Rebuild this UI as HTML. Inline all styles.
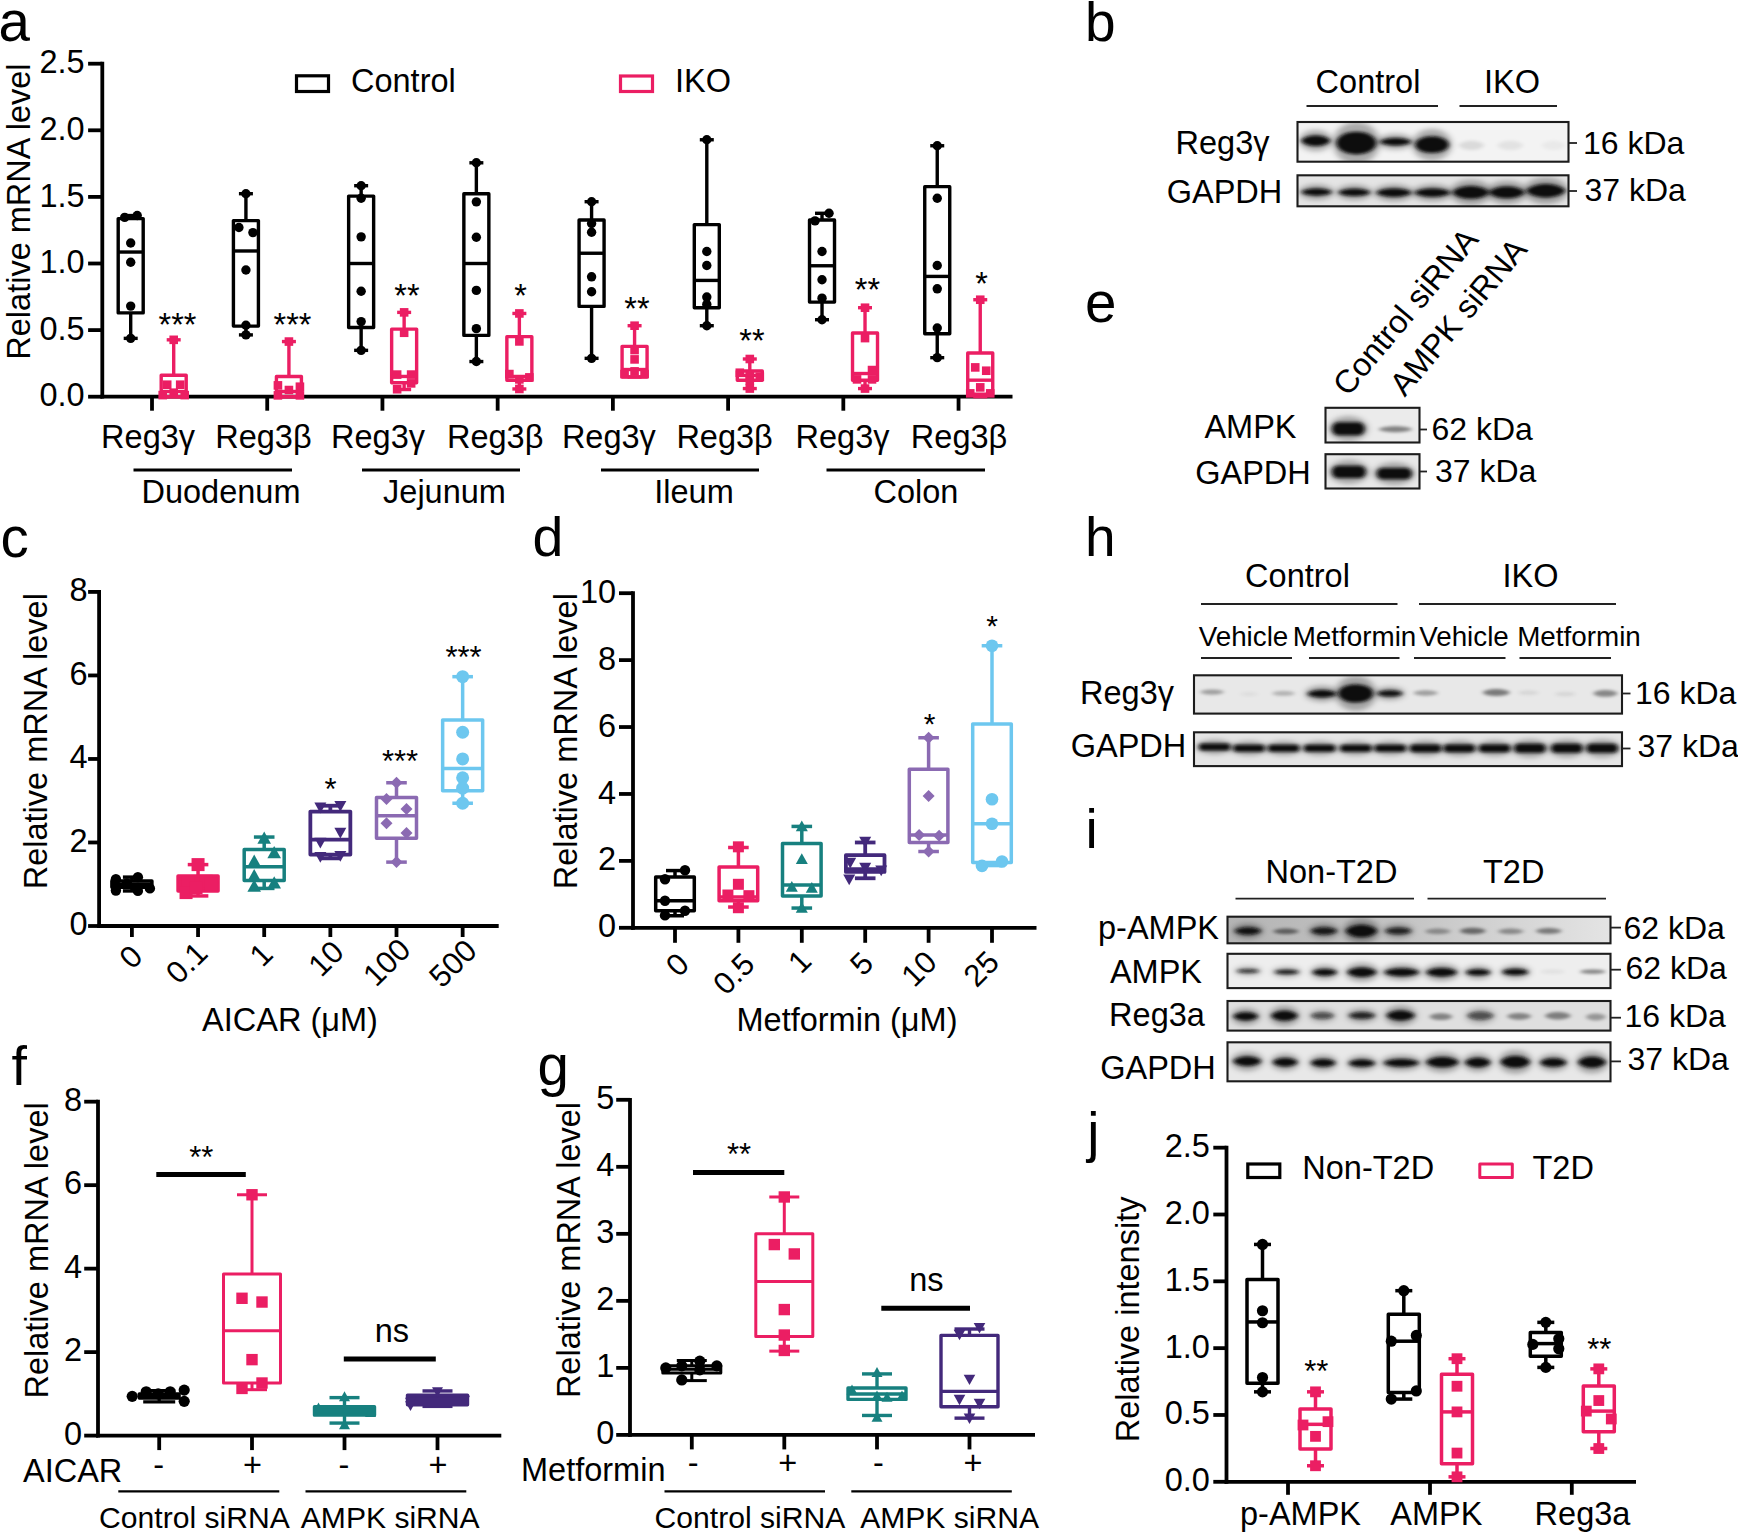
<!DOCTYPE html>
<html lang="en"><head><meta charset="utf-8"><title>Figure</title>
<style>
html,body{margin:0;padding:0;background:#fff;}
svg{display:block;font-family:"Liberation Sans", sans-serif;}
</style></head><body>
<svg width="1738" height="1533" viewBox="0 0 1738 1533">
<defs>
<filter id="b4" x="-30%" y="-200%" width="160%" height="500%"><feGaussianBlur stdDeviation="2.0 1.5"/></filter>
<filter id="b6" x="-30%" y="-200%" width="160%" height="500%"><feGaussianBlur stdDeviation="2.2 1.6"/></filter>
<filter id="b8" x="-40%" y="-300%" width="180%" height="700%"><feGaussianBlur stdDeviation="3.2 2.6"/></filter>
<linearGradient id="gi1" x1="0" x2="1" y1="0" y2="0"><stop offset="0" stop-color="#b4b4b4"/><stop offset="0.5" stop-color="#c6c6c6"/><stop offset="1" stop-color="#e4e4e4"/></linearGradient>
</defs>
<rect width="1738" height="1533" fill="#fff"/>

<text x="-1.5" y="41" font-size="56.5" text-anchor="start" fill="#000">a</text>
<line x1="102.3" y1="61.8" x2="102.3" y2="398.6" stroke="#000" stroke-width="3.8" stroke-linecap="butt"/>
<line x1="100.4" y1="396.7" x2="1012.5" y2="396.7" stroke="#000" stroke-width="3.8" stroke-linecap="butt"/>
<line x1="88.1" y1="396.7" x2="102.3" y2="396.7" stroke="#000" stroke-width="3.8" stroke-linecap="butt"/>
<text x="84.7" y="406.3" font-size="32.5" text-anchor="end" fill="#000">0.0</text>
<line x1="88.1" y1="330.1" x2="102.3" y2="330.1" stroke="#000" stroke-width="3.8" stroke-linecap="butt"/>
<text x="84.7" y="339.7" font-size="32.5" text-anchor="end" fill="#000">0.5</text>
<line x1="88.1" y1="263.5" x2="102.3" y2="263.5" stroke="#000" stroke-width="3.8" stroke-linecap="butt"/>
<text x="84.7" y="273.1" font-size="32.5" text-anchor="end" fill="#000">1.0</text>
<line x1="88.1" y1="196.9" x2="102.3" y2="196.9" stroke="#000" stroke-width="3.8" stroke-linecap="butt"/>
<text x="84.7" y="206.5" font-size="32.5" text-anchor="end" fill="#000">1.5</text>
<line x1="88.1" y1="130.3" x2="102.3" y2="130.3" stroke="#000" stroke-width="3.8" stroke-linecap="butt"/>
<text x="84.7" y="139.9" font-size="32.5" text-anchor="end" fill="#000">2.0</text>
<line x1="88.1" y1="63.7" x2="102.3" y2="63.7" stroke="#000" stroke-width="3.8" stroke-linecap="butt"/>
<text x="84.7" y="73.3" font-size="32.5" text-anchor="end" fill="#000">2.5</text>
<line x1="152" y1="396.7" x2="152" y2="410.7" stroke="#000" stroke-width="3.8" stroke-linecap="butt"/>
<line x1="267.22" y1="396.7" x2="267.22" y2="410.7" stroke="#000" stroke-width="3.8" stroke-linecap="butt"/>
<line x1="382.44" y1="396.7" x2="382.44" y2="410.7" stroke="#000" stroke-width="3.8" stroke-linecap="butt"/>
<line x1="497.66" y1="396.7" x2="497.66" y2="410.7" stroke="#000" stroke-width="3.8" stroke-linecap="butt"/>
<line x1="612.88" y1="396.7" x2="612.88" y2="410.7" stroke="#000" stroke-width="3.8" stroke-linecap="butt"/>
<line x1="728.1" y1="396.7" x2="728.1" y2="410.7" stroke="#000" stroke-width="3.8" stroke-linecap="butt"/>
<line x1="843.32" y1="396.7" x2="843.32" y2="410.7" stroke="#000" stroke-width="3.8" stroke-linecap="butt"/>
<line x1="958.54" y1="396.7" x2="958.54" y2="410.7" stroke="#000" stroke-width="3.8" stroke-linecap="butt"/>
<text x="29.7" y="211.6" font-size="32.5" text-anchor="middle" fill="#000" transform="rotate(-90 29.7 211.6)">Relative mRNA level</text>
<rect x="296.5" y="75.8" width="32" height="15.7" fill="none" stroke="#000" stroke-width="3.2" stroke-linejoin="miter"/>
<text x="351" y="92" font-size="32.5" text-anchor="start" fill="#000">Control</text>
<rect x="620.5" y="76" width="32" height="15.5" fill="none" stroke="#EB1E63" stroke-width="3.2" stroke-linejoin="miter"/>
<text x="675" y="92" font-size="32.5" text-anchor="start" fill="#000">IKO</text>
<line x1="130.7" y1="215.55" x2="130.7" y2="218.61" stroke="#000" stroke-width="3.4" stroke-linecap="butt"/>
<line x1="130.7" y1="312.92" x2="130.7" y2="338.36" stroke="#000" stroke-width="3.4" stroke-linecap="butt"/>
<line x1="123.7" y1="215.55" x2="137.7" y2="215.55" stroke="#000" stroke-width="3.4" stroke-linecap="butt"/>
<line x1="123.7" y1="338.36" x2="137.7" y2="338.36" stroke="#000" stroke-width="3.4" stroke-linecap="butt"/>
<rect x="118.2" y="218.61" width="25" height="94.31" fill="none" stroke="#000" stroke-width="3.4" stroke-linejoin="round"/>
<line x1="118.2" y1="252.04" x2="143.2" y2="252.04" stroke="#000" stroke-width="3.4" stroke-linecap="butt"/>
<circle cx="124.7" cy="217.41" r="4.7" fill="#000"/>
<circle cx="137.2" cy="215.55" r="4.7" fill="#000"/>
<circle cx="130.7" cy="242.99" r="4.7" fill="#000"/>
<circle cx="130.7" cy="262.3" r="4.7" fill="#000"/>
<circle cx="130.7" cy="306.12" r="4.7" fill="#000"/>
<circle cx="130.7" cy="338.36" r="4.7" fill="#000"/>
<line x1="173.7" y1="339.82" x2="173.7" y2="375.25" stroke="#EB1E63" stroke-width="3.4" stroke-linecap="butt"/>
<line x1="173.7" y1="396.7" x2="173.7" y2="396.7" stroke="#EB1E63" stroke-width="3.4" stroke-linecap="butt"/>
<line x1="166.7" y1="339.82" x2="180.7" y2="339.82" stroke="#EB1E63" stroke-width="3.4" stroke-linecap="butt"/>
<line x1="166.7" y1="396.7" x2="180.7" y2="396.7" stroke="#EB1E63" stroke-width="3.4" stroke-linecap="butt"/>
<rect x="161.2" y="375.25" width="25" height="21.45" fill="none" stroke="#EB1E63" stroke-width="3.4" stroke-linejoin="round"/>
<line x1="161.2" y1="391.51" x2="186.2" y2="391.51" stroke="#EB1E63" stroke-width="3.4" stroke-linecap="butt"/>
<rect x="169.4" y="335.52" width="8.6" height="8.6" fill="#EB1E63"/>
<rect x="162.9" y="380.41" width="8.6" height="8.6" fill="#EB1E63"/>
<rect x="175.9" y="380.41" width="8.6" height="8.6" fill="#EB1E63"/>
<rect x="158.4" y="390.8" width="8.6" height="8.6" fill="#EB1E63"/>
<rect x="169.4" y="388.4" width="8.6" height="8.6" fill="#EB1E63"/>
<rect x="180.4" y="390.8" width="8.6" height="8.6" fill="#EB1E63"/>
<line x1="245.92" y1="193.7" x2="245.92" y2="220.61" stroke="#000" stroke-width="3.4" stroke-linecap="butt"/>
<line x1="245.92" y1="326.1" x2="245.92" y2="334.9" stroke="#000" stroke-width="3.4" stroke-linecap="butt"/>
<line x1="238.92" y1="193.7" x2="252.92" y2="193.7" stroke="#000" stroke-width="3.4" stroke-linecap="butt"/>
<line x1="238.92" y1="334.9" x2="252.92" y2="334.9" stroke="#000" stroke-width="3.4" stroke-linecap="butt"/>
<rect x="233.42" y="220.61" width="25" height="105.49" fill="none" stroke="#000" stroke-width="3.4" stroke-linejoin="round"/>
<line x1="233.42" y1="250.98" x2="258.42" y2="250.98" stroke="#000" stroke-width="3.4" stroke-linecap="butt"/>
<circle cx="245.92" cy="193.7" r="4.7" fill="#000"/>
<circle cx="238.92" cy="227.54" r="4.7" fill="#000"/>
<circle cx="252.92" cy="232.6" r="4.7" fill="#000"/>
<circle cx="245.92" cy="270.03" r="4.7" fill="#000"/>
<circle cx="245.92" cy="325.3" r="4.7" fill="#000"/>
<circle cx="245.92" cy="334.9" r="4.7" fill="#000"/>
<line x1="288.92" y1="341.56" x2="288.92" y2="376.45" stroke="#EB1E63" stroke-width="3.4" stroke-linecap="butt"/>
<line x1="288.92" y1="396.7" x2="288.92" y2="396.7" stroke="#EB1E63" stroke-width="3.4" stroke-linecap="butt"/>
<line x1="281.92" y1="341.56" x2="295.92" y2="341.56" stroke="#EB1E63" stroke-width="3.4" stroke-linecap="butt"/>
<line x1="281.92" y1="396.7" x2="295.92" y2="396.7" stroke="#EB1E63" stroke-width="3.4" stroke-linecap="butt"/>
<rect x="276.42" y="376.45" width="25" height="20.25" fill="none" stroke="#EB1E63" stroke-width="3.4" stroke-linejoin="round"/>
<line x1="276.42" y1="391.51" x2="301.42" y2="391.51" stroke="#EB1E63" stroke-width="3.4" stroke-linecap="butt"/>
<rect x="284.62" y="337.26" width="8.6" height="8.6" fill="#EB1E63"/>
<rect x="273.62" y="381.08" width="8.6" height="8.6" fill="#EB1E63"/>
<rect x="295.62" y="382.41" width="8.6" height="8.6" fill="#EB1E63"/>
<rect x="284.62" y="385.74" width="8.6" height="8.6" fill="#EB1E63"/>
<rect x="273.62" y="391.07" width="8.6" height="8.6" fill="#EB1E63"/>
<rect x="295.62" y="391.07" width="8.6" height="8.6" fill="#EB1E63"/>
<line x1="361.14" y1="185.71" x2="361.14" y2="196.1" stroke="#000" stroke-width="3.4" stroke-linecap="butt"/>
<line x1="361.14" y1="327.44" x2="361.14" y2="350.35" stroke="#000" stroke-width="3.4" stroke-linecap="butt"/>
<line x1="354.14" y1="185.71" x2="368.14" y2="185.71" stroke="#000" stroke-width="3.4" stroke-linecap="butt"/>
<line x1="354.14" y1="350.35" x2="368.14" y2="350.35" stroke="#000" stroke-width="3.4" stroke-linecap="butt"/>
<rect x="348.64" y="196.1" width="25" height="131.34" fill="none" stroke="#000" stroke-width="3.4" stroke-linejoin="round"/>
<line x1="348.64" y1="263.5" x2="373.64" y2="263.5" stroke="#000" stroke-width="3.4" stroke-linecap="butt"/>
<circle cx="361.14" cy="185.71" r="4.7" fill="#000"/>
<circle cx="361.14" cy="198.23" r="4.7" fill="#000"/>
<circle cx="361.14" cy="236.86" r="4.7" fill="#000"/>
<circle cx="361.14" cy="291.21" r="4.7" fill="#000"/>
<circle cx="361.14" cy="321.58" r="4.7" fill="#000"/>
<circle cx="361.14" cy="350.35" r="4.7" fill="#000"/>
<line x1="404.14" y1="312.38" x2="404.14" y2="329.17" stroke="#EB1E63" stroke-width="3.4" stroke-linecap="butt"/>
<line x1="404.14" y1="382.71" x2="404.14" y2="389.51" stroke="#EB1E63" stroke-width="3.4" stroke-linecap="butt"/>
<line x1="397.14" y1="312.38" x2="411.14" y2="312.38" stroke="#EB1E63" stroke-width="3.4" stroke-linecap="butt"/>
<line x1="397.14" y1="389.51" x2="411.14" y2="389.51" stroke="#EB1E63" stroke-width="3.4" stroke-linecap="butt"/>
<rect x="391.64" y="329.17" width="25" height="53.55" fill="none" stroke="#EB1E63" stroke-width="3.4" stroke-linejoin="round"/>
<line x1="391.64" y1="376.45" x2="416.64" y2="376.45" stroke="#EB1E63" stroke-width="3.4" stroke-linecap="butt"/>
<rect x="399.84" y="308.08" width="8.6" height="8.6" fill="#EB1E63"/>
<rect x="399.84" y="328.46" width="8.6" height="8.6" fill="#EB1E63"/>
<rect x="392.84" y="370.29" width="8.6" height="8.6" fill="#EB1E63"/>
<rect x="406.84" y="370.29" width="8.6" height="8.6" fill="#EB1E63"/>
<rect x="406.84" y="379.08" width="8.6" height="8.6" fill="#EB1E63"/>
<rect x="392.84" y="384.94" width="8.6" height="8.6" fill="#EB1E63"/>
<line x1="476.36" y1="162.8" x2="476.36" y2="193.7" stroke="#000" stroke-width="3.4" stroke-linecap="butt"/>
<line x1="476.36" y1="335.43" x2="476.36" y2="361.54" stroke="#000" stroke-width="3.4" stroke-linecap="butt"/>
<line x1="469.36" y1="162.8" x2="483.36" y2="162.8" stroke="#000" stroke-width="3.4" stroke-linecap="butt"/>
<line x1="469.36" y1="361.54" x2="483.36" y2="361.54" stroke="#000" stroke-width="3.4" stroke-linecap="butt"/>
<rect x="463.86" y="193.7" width="25" height="141.72" fill="none" stroke="#000" stroke-width="3.4" stroke-linejoin="round"/>
<line x1="463.86" y1="263.5" x2="488.86" y2="263.5" stroke="#000" stroke-width="3.4" stroke-linecap="butt"/>
<circle cx="476.36" cy="162.8" r="4.7" fill="#000"/>
<circle cx="476.36" cy="201.83" r="4.7" fill="#000"/>
<circle cx="476.36" cy="237.26" r="4.7" fill="#000"/>
<circle cx="476.36" cy="290.41" r="4.7" fill="#000"/>
<circle cx="476.36" cy="328.63" r="4.7" fill="#000"/>
<circle cx="476.36" cy="361.54" r="4.7" fill="#000"/>
<line x1="519.36" y1="313.45" x2="519.36" y2="336.63" stroke="#EB1E63" stroke-width="3.4" stroke-linecap="butt"/>
<line x1="519.36" y1="380.18" x2="519.36" y2="388.97" stroke="#EB1E63" stroke-width="3.4" stroke-linecap="butt"/>
<line x1="512.36" y1="313.45" x2="526.36" y2="313.45" stroke="#EB1E63" stroke-width="3.4" stroke-linecap="butt"/>
<line x1="512.36" y1="388.97" x2="526.36" y2="388.97" stroke="#EB1E63" stroke-width="3.4" stroke-linecap="butt"/>
<rect x="506.86" y="336.63" width="25" height="43.56" fill="none" stroke="#EB1E63" stroke-width="3.4" stroke-linejoin="round"/>
<line x1="506.86" y1="376.45" x2="531.86" y2="376.45" stroke="#EB1E63" stroke-width="3.4" stroke-linecap="butt"/>
<rect x="515.06" y="309.15" width="8.6" height="8.6" fill="#EB1E63"/>
<rect x="515.06" y="337.12" width="8.6" height="8.6" fill="#EB1E63"/>
<rect x="505.06" y="369.76" width="8.6" height="8.6" fill="#EB1E63"/>
<rect x="525.06" y="373.09" width="8.6" height="8.6" fill="#EB1E63"/>
<rect x="515.06" y="375.08" width="8.6" height="8.6" fill="#EB1E63"/>
<rect x="515.06" y="384.67" width="8.6" height="8.6" fill="#EB1E63"/>
<line x1="591.58" y1="201.7" x2="591.58" y2="219.94" stroke="#000" stroke-width="3.4" stroke-linecap="butt"/>
<line x1="591.58" y1="306.39" x2="591.58" y2="358.34" stroke="#000" stroke-width="3.4" stroke-linecap="butt"/>
<line x1="584.58" y1="201.7" x2="598.58" y2="201.7" stroke="#000" stroke-width="3.4" stroke-linecap="butt"/>
<line x1="584.58" y1="358.34" x2="598.58" y2="358.34" stroke="#000" stroke-width="3.4" stroke-linecap="butt"/>
<rect x="579.08" y="219.94" width="25" height="86.45" fill="none" stroke="#000" stroke-width="3.4" stroke-linejoin="round"/>
<line x1="579.08" y1="253.24" x2="604.08" y2="253.24" stroke="#000" stroke-width="3.4" stroke-linecap="butt"/>
<circle cx="591.58" cy="201.7" r="4.7" fill="#000"/>
<circle cx="591.58" cy="223.54" r="4.7" fill="#000"/>
<circle cx="591.58" cy="232.2" r="4.7" fill="#000"/>
<circle cx="591.58" cy="276.82" r="4.7" fill="#000"/>
<circle cx="591.58" cy="291.74" r="4.7" fill="#000"/>
<circle cx="591.58" cy="358.34" r="4.7" fill="#000"/>
<line x1="634.58" y1="325.7" x2="634.58" y2="346.35" stroke="#EB1E63" stroke-width="3.4" stroke-linecap="butt"/>
<line x1="634.58" y1="376.99" x2="634.58" y2="376.99" stroke="#EB1E63" stroke-width="3.4" stroke-linecap="butt"/>
<line x1="627.58" y1="325.7" x2="641.58" y2="325.7" stroke="#EB1E63" stroke-width="3.4" stroke-linecap="butt"/>
<line x1="627.58" y1="376.99" x2="641.58" y2="376.99" stroke="#EB1E63" stroke-width="3.4" stroke-linecap="butt"/>
<rect x="622.08" y="346.35" width="25" height="30.64" fill="none" stroke="#EB1E63" stroke-width="3.4" stroke-linejoin="round"/>
<line x1="622.08" y1="369.53" x2="647.08" y2="369.53" stroke="#EB1E63" stroke-width="3.4" stroke-linecap="butt"/>
<rect x="630.28" y="321.4" width="8.6" height="8.6" fill="#EB1E63"/>
<rect x="630.28" y="345.78" width="8.6" height="8.6" fill="#EB1E63"/>
<rect x="630.28" y="355.1" width="8.6" height="8.6" fill="#EB1E63"/>
<rect x="620.28" y="369.76" width="8.6" height="8.6" fill="#EB1E63"/>
<rect x="640.28" y="369.76" width="8.6" height="8.6" fill="#EB1E63"/>
<rect x="630.28" y="367.09" width="8.6" height="8.6" fill="#EB1E63"/>
<line x1="706.8" y1="139.76" x2="706.8" y2="224.61" stroke="#000" stroke-width="3.4" stroke-linecap="butt"/>
<line x1="706.8" y1="307.72" x2="706.8" y2="325.7" stroke="#000" stroke-width="3.4" stroke-linecap="butt"/>
<line x1="699.8" y1="139.76" x2="713.8" y2="139.76" stroke="#000" stroke-width="3.4" stroke-linecap="butt"/>
<line x1="699.8" y1="325.7" x2="713.8" y2="325.7" stroke="#000" stroke-width="3.4" stroke-linecap="butt"/>
<rect x="694.3" y="224.61" width="25" height="83.12" fill="none" stroke="#000" stroke-width="3.4" stroke-linejoin="round"/>
<line x1="694.3" y1="280.42" x2="719.3" y2="280.42" stroke="#000" stroke-width="3.4" stroke-linecap="butt"/>
<circle cx="706.8" cy="139.76" r="4.7" fill="#000"/>
<circle cx="706.8" cy="251.51" r="4.7" fill="#000"/>
<circle cx="706.8" cy="265.5" r="4.7" fill="#000"/>
<circle cx="706.8" cy="297.07" r="4.7" fill="#000"/>
<circle cx="706.8" cy="304.39" r="4.7" fill="#000"/>
<circle cx="706.8" cy="325.7" r="4.7" fill="#000"/>
<line x1="749.8" y1="359" x2="749.8" y2="370.99" stroke="#EB1E63" stroke-width="3.4" stroke-linecap="butt"/>
<line x1="749.8" y1="380.18" x2="749.8" y2="388.57" stroke="#EB1E63" stroke-width="3.4" stroke-linecap="butt"/>
<line x1="742.8" y1="359" x2="756.8" y2="359" stroke="#EB1E63" stroke-width="3.4" stroke-linecap="butt"/>
<line x1="742.8" y1="388.57" x2="756.8" y2="388.57" stroke="#EB1E63" stroke-width="3.4" stroke-linecap="butt"/>
<rect x="737.3" y="370.99" width="25" height="9.19" fill="none" stroke="#EB1E63" stroke-width="3.4" stroke-linejoin="round"/>
<line x1="737.3" y1="375.39" x2="762.3" y2="375.39" stroke="#EB1E63" stroke-width="3.4" stroke-linecap="butt"/>
<rect x="745.5" y="354.7" width="8.6" height="8.6" fill="#EB1E63"/>
<rect x="735.5" y="368.42" width="8.6" height="8.6" fill="#EB1E63"/>
<rect x="755.5" y="372.42" width="8.6" height="8.6" fill="#EB1E63"/>
<rect x="745.5" y="370.42" width="8.6" height="8.6" fill="#EB1E63"/>
<rect x="745.5" y="376.42" width="8.6" height="8.6" fill="#EB1E63"/>
<rect x="745.5" y="384.27" width="8.6" height="8.6" fill="#EB1E63"/>
<line x1="822.02" y1="213.28" x2="822.02" y2="219.94" stroke="#000" stroke-width="3.4" stroke-linecap="butt"/>
<line x1="822.02" y1="302.13" x2="822.02" y2="319.71" stroke="#000" stroke-width="3.4" stroke-linecap="butt"/>
<line x1="815.02" y1="213.28" x2="829.02" y2="213.28" stroke="#000" stroke-width="3.4" stroke-linecap="butt"/>
<line x1="815.02" y1="319.71" x2="829.02" y2="319.71" stroke="#000" stroke-width="3.4" stroke-linecap="butt"/>
<rect x="809.52" y="219.94" width="25" height="82.18" fill="none" stroke="#000" stroke-width="3.4" stroke-linejoin="round"/>
<line x1="809.52" y1="265.76" x2="834.52" y2="265.76" stroke="#000" stroke-width="3.4" stroke-linecap="butt"/>
<circle cx="829.02" cy="213.28" r="4.7" fill="#000"/>
<circle cx="815.02" cy="220.88" r="4.7" fill="#000"/>
<circle cx="822.02" cy="251.51" r="4.7" fill="#000"/>
<circle cx="822.02" cy="279.75" r="4.7" fill="#000"/>
<circle cx="822.02" cy="298.13" r="4.7" fill="#000"/>
<circle cx="822.02" cy="319.71" r="4.7" fill="#000"/>
<line x1="865.02" y1="307.72" x2="865.02" y2="333.03" stroke="#EB1E63" stroke-width="3.4" stroke-linecap="butt"/>
<line x1="865.02" y1="380.18" x2="865.02" y2="388.57" stroke="#EB1E63" stroke-width="3.4" stroke-linecap="butt"/>
<line x1="858.02" y1="307.72" x2="872.02" y2="307.72" stroke="#EB1E63" stroke-width="3.4" stroke-linecap="butt"/>
<line x1="858.02" y1="388.57" x2="872.02" y2="388.57" stroke="#EB1E63" stroke-width="3.4" stroke-linecap="butt"/>
<rect x="852.52" y="333.03" width="25" height="47.15" fill="none" stroke="#EB1E63" stroke-width="3.4" stroke-linejoin="round"/>
<line x1="852.52" y1="373.52" x2="877.52" y2="373.52" stroke="#EB1E63" stroke-width="3.4" stroke-linecap="butt"/>
<rect x="860.72" y="303.42" width="8.6" height="8.6" fill="#EB1E63"/>
<rect x="860.72" y="333.79" width="8.6" height="8.6" fill="#EB1E63"/>
<rect x="867.72" y="365.76" width="8.6" height="8.6" fill="#EB1E63"/>
<rect x="852.72" y="375.08" width="8.6" height="8.6" fill="#EB1E63"/>
<rect x="867.72" y="375.08" width="8.6" height="8.6" fill="#EB1E63"/>
<rect x="860.72" y="384.27" width="8.6" height="8.6" fill="#EB1E63"/>
<line x1="937.24" y1="145.75" x2="937.24" y2="186.64" stroke="#000" stroke-width="3.4" stroke-linecap="butt"/>
<line x1="937.24" y1="333.7" x2="937.24" y2="357.67" stroke="#000" stroke-width="3.4" stroke-linecap="butt"/>
<line x1="930.24" y1="145.75" x2="944.24" y2="145.75" stroke="#000" stroke-width="3.4" stroke-linecap="butt"/>
<line x1="930.24" y1="357.67" x2="944.24" y2="357.67" stroke="#000" stroke-width="3.4" stroke-linecap="butt"/>
<rect x="924.74" y="186.64" width="25" height="147.05" fill="none" stroke="#000" stroke-width="3.4" stroke-linejoin="round"/>
<line x1="924.74" y1="276.42" x2="949.74" y2="276.42" stroke="#000" stroke-width="3.4" stroke-linecap="butt"/>
<circle cx="937.24" cy="145.75" r="4.7" fill="#000"/>
<circle cx="937.24" cy="198.23" r="4.7" fill="#000"/>
<circle cx="937.24" cy="265.5" r="4.7" fill="#000"/>
<circle cx="937.24" cy="288.81" r="4.7" fill="#000"/>
<circle cx="937.24" cy="327.97" r="4.7" fill="#000"/>
<circle cx="937.24" cy="357.67" r="4.7" fill="#000"/>
<line x1="980.24" y1="299.73" x2="980.24" y2="353.01" stroke="#EB1E63" stroke-width="3.4" stroke-linecap="butt"/>
<line x1="980.24" y1="394.17" x2="980.24" y2="396.7" stroke="#EB1E63" stroke-width="3.4" stroke-linecap="butt"/>
<line x1="973.24" y1="299.73" x2="987.24" y2="299.73" stroke="#EB1E63" stroke-width="3.4" stroke-linecap="butt"/>
<line x1="973.24" y1="396.7" x2="987.24" y2="396.7" stroke="#EB1E63" stroke-width="3.4" stroke-linecap="butt"/>
<rect x="967.74" y="353.01" width="25" height="41.16" fill="none" stroke="#EB1E63" stroke-width="3.4" stroke-linejoin="round"/>
<line x1="967.74" y1="380.18" x2="992.74" y2="380.18" stroke="#EB1E63" stroke-width="3.4" stroke-linecap="butt"/>
<rect x="975.94" y="295.43" width="8.6" height="8.6" fill="#EB1E63"/>
<rect x="970.94" y="363.1" width="8.6" height="8.6" fill="#EB1E63"/>
<rect x="981.94" y="366.43" width="8.6" height="8.6" fill="#EB1E63"/>
<rect x="975.94" y="383.08" width="8.6" height="8.6" fill="#EB1E63"/>
<rect x="965.94" y="389.07" width="8.6" height="8.6" fill="#EB1E63"/>
<rect x="985.94" y="389.07" width="8.6" height="8.6" fill="#EB1E63"/>
<text x="177.5" y="335.5" font-size="32.5" text-anchor="middle" fill="#000">***</text>
<text x="292.5" y="335.5" font-size="32.5" text-anchor="middle" fill="#000">***</text>
<text x="407" y="307" font-size="32.5" text-anchor="middle" fill="#000">**</text>
<text x="520.5" y="307" font-size="32.5" text-anchor="middle" fill="#000">*</text>
<text x="637" y="319.5" font-size="32.5" text-anchor="middle" fill="#000">**</text>
<text x="752" y="352" font-size="32.5" text-anchor="middle" fill="#000">**</text>
<text x="867.5" y="300.5" font-size="32.5" text-anchor="middle" fill="#000">**</text>
<text x="981.5" y="294.5" font-size="32.5" text-anchor="middle" fill="#000">*</text>
<text x="148.1" y="447.5" font-size="32.5" text-anchor="middle" fill="#000">Reg3γ</text>
<text x="263.42" y="447.5" font-size="32.5" text-anchor="middle" fill="#000">Reg3β</text>
<text x="378.04" y="447.5" font-size="32.5" text-anchor="middle" fill="#000">Reg3γ</text>
<text x="495.16" y="447.5" font-size="32.5" text-anchor="middle" fill="#000">Reg3β</text>
<text x="608.88" y="447.5" font-size="32.5" text-anchor="middle" fill="#000">Reg3γ</text>
<text x="724.6" y="447.5" font-size="32.5" text-anchor="middle" fill="#000">Reg3β</text>
<text x="842.52" y="447.5" font-size="32.5" text-anchor="middle" fill="#000">Reg3γ</text>
<text x="959.04" y="447.5" font-size="32.5" text-anchor="middle" fill="#000">Reg3β</text>
<line x1="133.5" y1="470" x2="292" y2="470" stroke="#000" stroke-width="3" stroke-linecap="butt"/>
<text x="221" y="502.5" font-size="32.5" text-anchor="middle" fill="#000">Duodenum</text>
<line x1="362" y1="470" x2="520" y2="470" stroke="#000" stroke-width="3" stroke-linecap="butt"/>
<text x="444.5" y="502.5" font-size="32.5" text-anchor="middle" fill="#000">Jejunum</text>
<line x1="601" y1="470" x2="759" y2="470" stroke="#000" stroke-width="3" stroke-linecap="butt"/>
<text x="694" y="502.5" font-size="32.5" text-anchor="middle" fill="#000">Ileum</text>
<line x1="826.5" y1="470" x2="985" y2="470" stroke="#000" stroke-width="3" stroke-linecap="butt"/>
<text x="916" y="502.5" font-size="32.5" text-anchor="middle" fill="#000">Colon</text>
<text x="1085" y="40.8" font-size="55" text-anchor="start" fill="#000">b</text>
<text x="1368" y="92.5" font-size="32.5" text-anchor="middle" fill="#000">Control</text>
<text x="1512" y="92.5" font-size="32.5" text-anchor="middle" fill="#000">IKO</text>
<line x1="1306.5" y1="106" x2="1438" y2="106" stroke="#222" stroke-width="1.8" stroke-linecap="butt"/>
<line x1="1459.5" y1="106" x2="1557" y2="106" stroke="#222" stroke-width="1.8" stroke-linecap="butt"/>
<text x="1222.5" y="153.5" font-size="32.5" text-anchor="middle" fill="#000">Reg3γ</text>
<text x="1224.5" y="202.5" font-size="32.5" text-anchor="middle" fill="#000">GAPDH</text>
<clipPath id="c252"><rect x="1297.5" y="122" width="271" height="39.7"/></clipPath>
<rect x="1297.5" y="122" width="271" height="39.7" fill="#f3f3f3"/>
<g clip-path="url(#c252)"><g filter="url(#b8)">
<ellipse cx="1315.76" cy="140.66" rx="16.66" ry="10.55" fill="#0c0c0c" fill-opacity="0.3"/>
<ellipse cx="1356.36" cy="143.03" rx="23.48" ry="21.11" fill="#0c0c0c" fill-opacity="0.3"/>
<ellipse cx="1395.6" cy="141.68" rx="18.17" ry="7.92" fill="#0c0c0c" fill-opacity="0.3"/>
<ellipse cx="1431.97" cy="144.72" rx="19.88" ry="15.83" fill="#0c0c0c" fill-opacity="0.3"/>
</g><g filter="url(#b4)">
<path d="M1301.13 140.66 C1305.97 133.63 1325.56 133.63 1330.4 140.66 C1325.56 147.7 1305.97 147.7 1301.13 140.66Z" fill="#0c0c0c" fill-opacity="1"/>
<ellipse cx="1356.36" cy="143.03" rx="19.92" ry="11.38" fill="#0c0c0c" fill-opacity="1"/>
<path d="M1379.62 141.68 C1384.93 136.64 1406.27 136.64 1411.59 141.68 C1406.27 146.72 1384.93 146.72 1379.62 141.68Z" fill="#0c0c0c" fill-opacity="1"/>
<ellipse cx="1431.97" cy="144.72" rx="16.71" ry="8.36" fill="#0c0c0c" fill-opacity="1"/>
<path d="M1458.44 145.4 C1462.69 139.36 1480.07 139.36 1484.32 145.4 C1480.07 151.44 1462.69 151.44 1458.44 145.4Z" fill="#0c0c0c" fill-opacity="0.1"/>
<path d="M1497.34 145.4 C1501.59 139.36 1518.98 139.36 1523.22 145.4 C1518.98 151.44 1501.59 151.44 1497.34 145.4Z" fill="#0c0c0c" fill-opacity="0.07"/>
<path d="M1541.32 145.4 C1545.28 139.36 1561.56 139.36 1565.51 145.4 C1561.56 151.44 1545.28 151.44 1541.32 145.4Z" fill="#0c0c0c" fill-opacity="0.04"/>
</g></g>
<rect x="1297.5" y="122" width="271" height="39.7" fill="none" stroke="#1c1c1c" stroke-width="2.1"/>
<clipPath id="c269"><rect x="1297.5" y="175.3" width="271" height="31"/></clipPath>
<rect x="1297.5" y="175.3" width="271" height="31" fill="#e4e4e4"/>
<g clip-path="url(#c269)"><g filter="url(#b8)">
<ellipse cx="1316.61" cy="192.08" rx="17.6" ry="7.59" fill="#0c0c0c" fill-opacity="0.3"/>
<ellipse cx="1354.33" cy="192.42" rx="18.17" ry="7.59" fill="#0c0c0c" fill-opacity="0.3"/>
<ellipse cx="1393.91" cy="192.76" rx="20.07" ry="8.58" fill="#0c0c0c" fill-opacity="0.3"/>
<ellipse cx="1432.48" cy="192.76" rx="20.44" ry="8.58" fill="#0c0c0c" fill-opacity="0.3"/>
<ellipse cx="1470.87" cy="192.42" rx="21.01" ry="12.53" fill="#0c0c0c" fill-opacity="0.3"/>
<ellipse cx="1506.9" cy="192.42" rx="20.44" ry="11.54" fill="#0c0c0c" fill-opacity="0.3"/>
<ellipse cx="1545.81" cy="190.73" rx="22.34" ry="13.19" fill="#0c0c0c" fill-opacity="0.3"/>
</g><g filter="url(#b4)">
<path d="M1301.13 192.08 C1306.27 187.29 1326.95 187.29 1332.09 192.08 C1326.95 196.87 1306.27 196.87 1301.13 192.08Z" fill="#0c0c0c" fill-opacity="1"/>
<path d="M1338.35 192.42 C1343.66 187.63 1365 187.63 1370.32 192.42 C1365 197.21 1343.66 197.21 1338.35 192.42Z" fill="#0c0c0c" fill-opacity="1"/>
<path d="M1376.23 192.76 C1382.14 187.22 1405.68 187.22 1411.59 192.76 C1405.68 198.3 1382.14 198.3 1376.23 192.76Z" fill="#0c0c0c" fill-opacity="1"/>
<path d="M1414.46 192.76 C1420.49 187.22 1444.47 187.22 1450.49 192.76 C1444.47 198.3 1420.49 198.3 1414.46 192.76Z" fill="#0c0c0c" fill-opacity="1"/>
<path d="M1452.35 192.42 C1458.55 183.89 1483.19 183.89 1489.39 192.42 C1483.19 200.96 1458.55 200.96 1452.35 192.42Z" fill="#0c0c0c" fill-opacity="1"/>
<path d="M1488.89 192.42 C1494.91 184.64 1518.89 184.64 1524.92 192.42 C1518.89 200.21 1494.91 200.21 1488.89 192.42Z" fill="#0c0c0c" fill-opacity="1"/>
<path d="M1526.1 190.73 C1532.72 181.7 1558.89 181.7 1565.51 190.73 C1558.89 199.77 1532.72 199.77 1526.1 190.73Z" fill="#0c0c0c" fill-opacity="1"/>
</g></g>
<rect x="1297.5" y="175.3" width="271" height="31" fill="none" stroke="#1c1c1c" stroke-width="2.1"/>
<line x1="1569" y1="143" x2="1577" y2="143" stroke="#222" stroke-width="1.8" stroke-linecap="butt"/>
<line x1="1569" y1="191" x2="1577" y2="191" stroke="#222" stroke-width="1.8" stroke-linecap="butt"/>
<text x="1583" y="153.5" font-size="32" text-anchor="start" fill="#000">16 kDa</text>
<text x="1584.5" y="200.5" font-size="32" text-anchor="start" fill="#000">37 kDa</text>
<text x="1085" y="321.5" font-size="56.5" text-anchor="start" fill="#000">e</text>
<text x="1348" y="397.5" font-size="32.4" text-anchor="start" fill="#000" transform="rotate(-50 1348 397.5)">Control siRNA</text>
<text x="1404.8" y="397.7" font-size="32.4" text-anchor="start" fill="#000" transform="rotate(-50 1404.8 397.7)">AMPK siRNA</text>
<text x="1250.5" y="437.5" font-size="32.5" text-anchor="middle" fill="#000">AMPK</text>
<text x="1253" y="484" font-size="32.5" text-anchor="middle" fill="#000">GAPDH</text>
<clipPath id="c298"><rect x="1325.5" y="407.8" width="94" height="34.7"/></clipPath>
<rect x="1325.5" y="407.8" width="94" height="34.7" fill="#ebebeb"/>
<g clip-path="url(#c298)"><g filter="url(#b8)">
<ellipse cx="1348.34" cy="428.79" rx="19.59" ry="12.46" fill="#0c0c0c" fill-opacity="0.3"/>
</g><g filter="url(#b6)">
<rect x="1332.05" y="422.36" width="32.58" height="12.85" rx="6.42" ry="6.42" fill="#0c0c0c" fill-opacity="1"/>
<path d="M1378.26 429.23 C1383.96 425.21 1406.74 425.21 1412.44 429.23 C1406.74 433.24 1383.96 433.24 1378.26 429.23Z" fill="#0c0c0c" fill-opacity="0.45"/>
</g></g>
<rect x="1325.5" y="407.8" width="94" height="34.7" fill="none" stroke="#1c1c1c" stroke-width="2.1"/>
<clipPath id="c307"><rect x="1325.5" y="454.2" width="94" height="34.3"/></clipPath>
<rect x="1325.5" y="454.2" width="94" height="34.3" fill="#e8e8e8"/>
<g clip-path="url(#c307)"><g filter="url(#b8)">
<ellipse cx="1348.89" cy="471.86" rx="20.2" ry="11.81" fill="#0c0c0c" fill-opacity="0.3"/>
<ellipse cx="1394.25" cy="473.61" rx="20.81" ry="11.15" fill="#0c0c0c" fill-opacity="0.3"/>
</g><g filter="url(#b6)">
<rect x="1332.05" y="465.81" width="33.67" height="12.1" rx="6.05" ry="6.05" fill="#0c0c0c" fill-opacity="1"/>
<rect x="1376.87" y="467.93" width="34.77" height="11.35" rx="5.67" ry="5.67" fill="#0c0c0c" fill-opacity="1"/>
</g></g>
<rect x="1325.5" y="454.2" width="94" height="34.3" fill="none" stroke="#1c1c1c" stroke-width="2.1"/>
<line x1="1420" y1="429.5" x2="1427" y2="429.5" stroke="#222" stroke-width="1.8" stroke-linecap="butt"/>
<line x1="1420" y1="471.5" x2="1427" y2="471.5" stroke="#222" stroke-width="1.8" stroke-linecap="butt"/>
<text x="1431.5" y="439.5" font-size="32" text-anchor="start" fill="#000">62 kDa</text>
<text x="1435" y="482" font-size="32" text-anchor="start" fill="#000">37 kDa</text>
<text x="0.5" y="557" font-size="56.5" text-anchor="start" fill="#000">c</text>
<line x1="99.1" y1="590.02" x2="99.1" y2="927.9" stroke="#000" stroke-width="3.8" stroke-linecap="butt"/>
<line x1="97.2" y1="926" x2="498.7" y2="926" stroke="#000" stroke-width="3.8" stroke-linecap="butt"/>
<line x1="88.1" y1="926" x2="99.1" y2="926" stroke="#000" stroke-width="3.8" stroke-linecap="butt"/>
<text x="87.5" y="935.2" font-size="32.5" text-anchor="end" fill="#000">0</text>
<line x1="88.1" y1="842.48" x2="99.1" y2="842.48" stroke="#000" stroke-width="3.8" stroke-linecap="butt"/>
<text x="87.5" y="851.68" font-size="32.5" text-anchor="end" fill="#000">2</text>
<line x1="88.1" y1="758.96" x2="99.1" y2="758.96" stroke="#000" stroke-width="3.8" stroke-linecap="butt"/>
<text x="87.5" y="768.16" font-size="32.5" text-anchor="end" fill="#000">4</text>
<line x1="88.1" y1="675.44" x2="99.1" y2="675.44" stroke="#000" stroke-width="3.8" stroke-linecap="butt"/>
<text x="87.5" y="684.64" font-size="32.5" text-anchor="end" fill="#000">6</text>
<line x1="88.1" y1="591.92" x2="99.1" y2="591.92" stroke="#000" stroke-width="3.8" stroke-linecap="butt"/>
<text x="87.5" y="601.12" font-size="32.5" text-anchor="end" fill="#000">8</text>
<line x1="131.9" y1="926" x2="131.9" y2="937" stroke="#000" stroke-width="3.8" stroke-linecap="butt"/>
<line x1="198.05" y1="926" x2="198.05" y2="937" stroke="#000" stroke-width="3.8" stroke-linecap="butt"/>
<line x1="264.2" y1="926" x2="264.2" y2="937" stroke="#000" stroke-width="3.8" stroke-linecap="butt"/>
<line x1="330.35" y1="926" x2="330.35" y2="937" stroke="#000" stroke-width="3.8" stroke-linecap="butt"/>
<line x1="396.5" y1="926" x2="396.5" y2="937" stroke="#000" stroke-width="3.8" stroke-linecap="butt"/>
<line x1="462.65" y1="926" x2="462.65" y2="937" stroke="#000" stroke-width="3.8" stroke-linecap="butt"/>
<text x="47.5" y="741.2" font-size="32.5" text-anchor="middle" fill="#000" transform="rotate(-90 47.5 741.2)">Relative mRNA level</text>
<text x="144.4" y="958.4" font-size="31" text-anchor="end" fill="#000" transform="rotate(-45 144.4 958.4)">0</text>
<text x="209.35" y="955" font-size="31" text-anchor="end" fill="#000" transform="rotate(-45 209.35 955)">0.1</text>
<text x="274.6" y="956" font-size="31" text-anchor="end" fill="#000" transform="rotate(-45 274.6 956)">1</text>
<text x="345.75" y="953.8" font-size="31" text-anchor="end" fill="#000" transform="rotate(-45 345.75 953.8)">10</text>
<text x="412.5" y="951.5" font-size="31" text-anchor="end" fill="#000" transform="rotate(-45 412.5 951.5)">100</text>
<text x="478.65" y="952.6" font-size="31" text-anchor="end" fill="#000" transform="rotate(-45 478.65 952.6)">500</text>
<text x="290" y="1031" font-size="32.5" text-anchor="middle" fill="#000">AICAR (μM)</text>
<line x1="131.9" y1="877.14" x2="131.9" y2="880.9" stroke="#000" stroke-width="3.5" stroke-linecap="butt"/>
<line x1="131.9" y1="887.16" x2="131.9" y2="890.92" stroke="#000" stroke-width="3.5" stroke-linecap="butt"/>
<line x1="122.9" y1="877.14" x2="140.9" y2="877.14" stroke="#000" stroke-width="3.5" stroke-linecap="butt"/>
<line x1="122.9" y1="890.92" x2="140.9" y2="890.92" stroke="#000" stroke-width="3.5" stroke-linecap="butt"/>
<rect x="111.9" y="880.9" width="40" height="6.26" fill="none" stroke="#000" stroke-width="3.5" stroke-linejoin="round"/>
<line x1="111.9" y1="884.24" x2="151.9" y2="884.24" stroke="#000" stroke-width="3.5" stroke-linecap="butt"/>
<circle cx="115.9" cy="879.23" r="5.2" fill="#000"/>
<circle cx="137.9" cy="877.14" r="5.2" fill="#000"/>
<circle cx="115.9" cy="890.5" r="5.2" fill="#000"/>
<circle cx="137.9" cy="890.92" r="5.2" fill="#000"/>
<circle cx="149.9" cy="888.42" r="5.2" fill="#000"/>
<circle cx="126.9" cy="883.4" r="5.2" fill="#000"/>
<line x1="198.05" y1="864.61" x2="198.05" y2="875.89" stroke="#EB1E63" stroke-width="3.5" stroke-linecap="butt"/>
<line x1="198.05" y1="890.92" x2="198.05" y2="895.93" stroke="#EB1E63" stroke-width="3.5" stroke-linecap="butt"/>
<line x1="187.75" y1="864.61" x2="208.35" y2="864.61" stroke="#EB1E63" stroke-width="3.5" stroke-linecap="butt"/>
<line x1="187.75" y1="895.93" x2="208.35" y2="895.93" stroke="#EB1E63" stroke-width="3.5" stroke-linecap="butt"/>
<rect x="178.05" y="875.89" width="40" height="15.03" fill="#EB1E63" stroke="#EB1E63" stroke-width="3.5" stroke-linejoin="round"/>
<line x1="178.05" y1="882.15" x2="218.05" y2="882.15" stroke="#EB1E63" stroke-width="3.5" stroke-linecap="butt"/>
<rect x="191.55" y="858.11" width="13" height="13" fill="#EB1E63"/>
<rect x="181.55" y="876.9" width="13" height="13" fill="#EB1E63"/>
<rect x="199.55" y="874.82" width="13" height="13" fill="#EB1E63"/>
<rect x="179.55" y="886.09" width="13" height="13" fill="#EB1E63"/>
<rect x="204.55" y="877.74" width="13" height="13" fill="#EB1E63"/>
<rect x="189.55" y="881.08" width="13" height="13" fill="#EB1E63"/>
<line x1="264.2" y1="837.05" x2="264.2" y2="849.58" stroke="#17807F" stroke-width="3.5" stroke-linecap="butt"/>
<line x1="264.2" y1="880.48" x2="264.2" y2="888.42" stroke="#17807F" stroke-width="3.5" stroke-linecap="butt"/>
<line x1="253.9" y1="837.05" x2="274.5" y2="837.05" stroke="#17807F" stroke-width="3.5" stroke-linecap="butt"/>
<line x1="253.9" y1="888.42" x2="274.5" y2="888.42" stroke="#17807F" stroke-width="3.5" stroke-linecap="butt"/>
<rect x="244.2" y="849.58" width="40" height="30.9" fill="none" stroke="#17807F" stroke-width="3.5" stroke-linejoin="round"/>
<line x1="244.2" y1="866.7" x2="284.2" y2="866.7" stroke="#17807F" stroke-width="3.5" stroke-linecap="butt"/>
<polygon points="264.2,831.5 271,843.74 257.4,843.74" fill="#17807F"/>
<polygon points="274.2,846.12 281,858.36 267.4,858.36" fill="#17807F"/>
<polygon points="254.2,854.47 261,866.71 247.4,866.71" fill="#17807F"/>
<polygon points="254.2,869.09 261,881.33 247.4,881.33" fill="#17807F"/>
<polygon points="274.2,876.19 281,888.43 267.4,888.43" fill="#17807F"/>
<polygon points="254.2,879.53 261,891.77 247.4,891.77" fill="#17807F"/>
<line x1="330.35" y1="805.73" x2="330.35" y2="811.58" stroke="#43297B" stroke-width="3.8" stroke-linecap="butt"/>
<line x1="330.35" y1="854.59" x2="330.35" y2="858.35" stroke="#43297B" stroke-width="3.8" stroke-linecap="butt"/>
<line x1="320.05" y1="805.73" x2="340.65" y2="805.73" stroke="#43297B" stroke-width="3.8" stroke-linecap="butt"/>
<line x1="320.05" y1="858.35" x2="340.65" y2="858.35" stroke="#43297B" stroke-width="3.8" stroke-linecap="butt"/>
<rect x="310.35" y="811.58" width="40" height="43.01" fill="none" stroke="#43297B" stroke-width="3.8" stroke-linejoin="round"/>
<line x1="310.35" y1="839.56" x2="350.35" y2="839.56" stroke="#43297B" stroke-width="3.8" stroke-linecap="butt"/>
<polygon points="320.35,813.4 326.35,802.6 314.35,802.6" fill="#43297B"/>
<polygon points="340.35,811.73 346.35,800.93 334.35,800.93" fill="#43297B"/>
<polygon points="340.35,838.46 346.35,827.66 334.35,827.66" fill="#43297B"/>
<polygon points="320.35,848.48 326.35,837.68 314.35,837.68" fill="#43297B"/>
<polygon points="320.35,862.68 326.35,851.88 314.35,851.88" fill="#43297B"/>
<polygon points="340.35,861.84 346.35,851.04 334.35,851.04" fill="#43297B"/>
<line x1="396.5" y1="782.76" x2="396.5" y2="797.38" stroke="#8B6AB2" stroke-width="3.5" stroke-linecap="butt"/>
<line x1="396.5" y1="838.3" x2="396.5" y2="862.11" stroke="#8B6AB2" stroke-width="3.5" stroke-linecap="butt"/>
<line x1="386.2" y1="782.76" x2="406.8" y2="782.76" stroke="#8B6AB2" stroke-width="3.5" stroke-linecap="butt"/>
<line x1="386.2" y1="862.11" x2="406.8" y2="862.11" stroke="#8B6AB2" stroke-width="3.5" stroke-linecap="butt"/>
<rect x="376.5" y="797.38" width="40" height="40.92" fill="none" stroke="#8B6AB2" stroke-width="3.5" stroke-linejoin="round"/>
<line x1="376.5" y1="815.75" x2="416.5" y2="815.75" stroke="#8B6AB2" stroke-width="3.5" stroke-linecap="butt"/>
<polygon points="396.5,776.76 402.5,782.76 396.5,788.76 390.5,782.76" fill="#8B6AB2"/>
<polygon points="386.5,793.05 392.5,799.05 386.5,805.05 380.5,799.05" fill="#8B6AB2"/>
<polygon points="406.5,803.07 412.5,809.07 406.5,815.07 400.5,809.07" fill="#8B6AB2"/>
<polygon points="386.5,817.27 392.5,823.27 386.5,829.27 380.5,823.27" fill="#8B6AB2"/>
<polygon points="406.5,826.88 412.5,832.88 406.5,838.88 400.5,832.88" fill="#8B6AB2"/>
<polygon points="396.5,856.11 402.5,862.11 396.5,868.11 390.5,862.11" fill="#8B6AB2"/>
<line x1="462.65" y1="676.69" x2="462.65" y2="720.12" stroke="#6DC7EF" stroke-width="3.5" stroke-linecap="butt"/>
<line x1="462.65" y1="790.7" x2="462.65" y2="803.23" stroke="#6DC7EF" stroke-width="3.5" stroke-linecap="butt"/>
<line x1="452.35" y1="676.69" x2="472.95" y2="676.69" stroke="#6DC7EF" stroke-width="3.5" stroke-linecap="butt"/>
<line x1="452.35" y1="803.23" x2="472.95" y2="803.23" stroke="#6DC7EF" stroke-width="3.5" stroke-linecap="butt"/>
<rect x="442.65" y="720.12" width="40" height="70.57" fill="none" stroke="#6DC7EF" stroke-width="3.5" stroke-linejoin="round"/>
<line x1="442.65" y1="768.56" x2="482.65" y2="768.56" stroke="#6DC7EF" stroke-width="3.5" stroke-linecap="butt"/>
<circle cx="462.65" cy="676.69" r="6.5" fill="#6DC7EF"/>
<circle cx="462.65" cy="732.23" r="6.5" fill="#6DC7EF"/>
<circle cx="462.65" cy="758.96" r="6.5" fill="#6DC7EF"/>
<circle cx="462.65" cy="777.75" r="6.5" fill="#6DC7EF"/>
<circle cx="462.65" cy="788.19" r="6.5" fill="#6DC7EF"/>
<circle cx="462.65" cy="803.23" r="6.5" fill="#6DC7EF"/>
<text x="463.5" y="668.3" font-size="31" text-anchor="middle" fill="#000">***</text>
<text x="400" y="772.3" font-size="31" text-anchor="middle" fill="#000">***</text>
<text x="330.5" y="799.8" font-size="31" text-anchor="middle" fill="#000">*</text>
<text x="532.4" y="556.2" font-size="55.5" text-anchor="start" fill="#000">d</text>
<line x1="633" y1="591.3" x2="633" y2="929.7" stroke="#000" stroke-width="3.8" stroke-linecap="butt"/>
<line x1="631.1" y1="927.8" x2="1036.5" y2="927.8" stroke="#000" stroke-width="3.8" stroke-linecap="butt"/>
<line x1="619" y1="927.8" x2="633" y2="927.8" stroke="#000" stroke-width="3.8" stroke-linecap="butt"/>
<text x="616.1" y="937.4" font-size="32.5" text-anchor="end" fill="#000">0</text>
<line x1="619" y1="860.88" x2="633" y2="860.88" stroke="#000" stroke-width="3.8" stroke-linecap="butt"/>
<text x="616.1" y="870.48" font-size="32.5" text-anchor="end" fill="#000">2</text>
<line x1="619" y1="793.96" x2="633" y2="793.96" stroke="#000" stroke-width="3.8" stroke-linecap="butt"/>
<text x="616.1" y="803.56" font-size="32.5" text-anchor="end" fill="#000">4</text>
<line x1="619" y1="727.04" x2="633" y2="727.04" stroke="#000" stroke-width="3.8" stroke-linecap="butt"/>
<text x="616.1" y="736.64" font-size="32.5" text-anchor="end" fill="#000">6</text>
<line x1="619" y1="660.12" x2="633" y2="660.12" stroke="#000" stroke-width="3.8" stroke-linecap="butt"/>
<text x="616.1" y="669.72" font-size="32.5" text-anchor="end" fill="#000">8</text>
<line x1="619" y1="593.2" x2="633" y2="593.2" stroke="#000" stroke-width="3.8" stroke-linecap="butt"/>
<text x="616.1" y="602.8" font-size="32.5" text-anchor="end" fill="#000">10</text>
<line x1="675" y1="927.8" x2="675" y2="942.8" stroke="#000" stroke-width="3.8" stroke-linecap="butt"/>
<line x1="738.4" y1="927.8" x2="738.4" y2="942.8" stroke="#000" stroke-width="3.8" stroke-linecap="butt"/>
<line x1="801.8" y1="927.8" x2="801.8" y2="942.8" stroke="#000" stroke-width="3.8" stroke-linecap="butt"/>
<line x1="865.2" y1="927.8" x2="865.2" y2="942.8" stroke="#000" stroke-width="3.8" stroke-linecap="butt"/>
<line x1="928.6" y1="927.8" x2="928.6" y2="942.8" stroke="#000" stroke-width="3.8" stroke-linecap="butt"/>
<line x1="992" y1="927.8" x2="992" y2="942.8" stroke="#000" stroke-width="3.8" stroke-linecap="butt"/>
<text x="577" y="741.2" font-size="32.5" text-anchor="middle" fill="#000" transform="rotate(-90 577 741.2)">Relative mRNA level</text>
<text x="691" y="966" font-size="31" text-anchor="end" fill="#000" transform="rotate(-45 691 966)">0</text>
<text x="756.4" y="966" font-size="31" text-anchor="end" fill="#000" transform="rotate(-45 756.4 966)">0.5</text>
<text x="813.1" y="962.7" font-size="31" text-anchor="end" fill="#000" transform="rotate(-45 813.1 962.7)">1</text>
<text x="875.2" y="965" font-size="31" text-anchor="end" fill="#000" transform="rotate(-45 875.2 965)">5</text>
<text x="938.6" y="964" font-size="31" text-anchor="end" fill="#000" transform="rotate(-45 938.6 964)">10</text>
<text x="1001" y="964" font-size="31" text-anchor="end" fill="#000" transform="rotate(-45 1001 964)">25</text>
<text x="847" y="1031" font-size="32.5" text-anchor="middle" fill="#000">Metformin (μM)</text>
<line x1="675" y1="870.58" x2="675" y2="876.94" stroke="#000" stroke-width="3.5" stroke-linecap="butt"/>
<line x1="675" y1="910.74" x2="675" y2="915.75" stroke="#000" stroke-width="3.5" stroke-linecap="butt"/>
<line x1="666" y1="870.58" x2="684" y2="870.58" stroke="#000" stroke-width="3.5" stroke-linecap="butt"/>
<line x1="666" y1="915.75" x2="684" y2="915.75" stroke="#000" stroke-width="3.5" stroke-linecap="butt"/>
<rect x="655.7" y="876.94" width="38.6" height="33.79" fill="none" stroke="#000" stroke-width="3.5" stroke-linejoin="round"/>
<line x1="655.7" y1="900.7" x2="694.3" y2="900.7" stroke="#000" stroke-width="3.5" stroke-linecap="butt"/>
<circle cx="685" cy="870.25" r="5.2" fill="#000"/>
<circle cx="665" cy="879.28" r="5.2" fill="#000"/>
<circle cx="665" cy="900.7" r="5.2" fill="#000"/>
<circle cx="685" cy="910.74" r="5.2" fill="#000"/>
<circle cx="665" cy="915.42" r="5.2" fill="#000"/>
<line x1="738.4" y1="847.5" x2="738.4" y2="866.9" stroke="#EB1E63" stroke-width="3.5" stroke-linecap="butt"/>
<line x1="738.4" y1="900.7" x2="738.4" y2="907.05" stroke="#EB1E63" stroke-width="3.5" stroke-linecap="butt"/>
<line x1="728.1" y1="847.5" x2="748.7" y2="847.5" stroke="#EB1E63" stroke-width="3.5" stroke-linecap="butt"/>
<line x1="728.1" y1="907.05" x2="748.7" y2="907.05" stroke="#EB1E63" stroke-width="3.5" stroke-linecap="butt"/>
<rect x="719.1" y="866.9" width="38.6" height="33.79" fill="none" stroke="#EB1E63" stroke-width="3.5" stroke-linejoin="round"/>
<line x1="719.1" y1="897.02" x2="757.7" y2="897.02" stroke="#EB1E63" stroke-width="3.5" stroke-linecap="butt"/>
<rect x="732.9" y="841.33" width="11" height="11" fill="#EB1E63"/>
<rect x="732.9" y="878.8" width="11" height="11" fill="#EB1E63"/>
<rect x="722.4" y="889.51" width="11" height="11" fill="#EB1E63"/>
<rect x="743.4" y="890.18" width="11" height="11" fill="#EB1E63"/>
<rect x="732.9" y="902.22" width="11" height="11" fill="#EB1E63"/>
<line x1="801.8" y1="826.42" x2="801.8" y2="843.48" stroke="#17807F" stroke-width="3.5" stroke-linecap="butt"/>
<line x1="801.8" y1="896.01" x2="801.8" y2="908.06" stroke="#17807F" stroke-width="3.5" stroke-linecap="butt"/>
<line x1="791.5" y1="826.42" x2="812.1" y2="826.42" stroke="#17807F" stroke-width="3.5" stroke-linecap="butt"/>
<line x1="791.5" y1="908.06" x2="812.1" y2="908.06" stroke="#17807F" stroke-width="3.5" stroke-linecap="butt"/>
<rect x="782.5" y="843.48" width="38.6" height="52.53" fill="none" stroke="#17807F" stroke-width="3.5" stroke-linejoin="round"/>
<line x1="782.5" y1="884.97" x2="821.1" y2="884.97" stroke="#17807F" stroke-width="3.5" stroke-linecap="butt"/>
<polygon points="801.8,820.42 807.8,831.22 795.8,831.22" fill="#17807F"/>
<polygon points="801.8,853.21 807.8,864.01 795.8,864.01" fill="#17807F"/>
<polygon points="791.8,880.98 797.8,891.78 785.8,891.78" fill="#17807F"/>
<polygon points="811.8,881.98 817.8,892.78 805.8,892.78" fill="#17807F"/>
<polygon points="801.8,902.06 807.8,912.86 795.8,912.86" fill="#17807F"/>
<line x1="865.2" y1="842.48" x2="865.2" y2="855.19" stroke="#43297B" stroke-width="3.8" stroke-linecap="butt"/>
<line x1="865.2" y1="871.92" x2="865.2" y2="878.28" stroke="#43297B" stroke-width="3.8" stroke-linecap="butt"/>
<line x1="854.9" y1="842.48" x2="875.5" y2="842.48" stroke="#43297B" stroke-width="3.8" stroke-linecap="butt"/>
<line x1="854.9" y1="878.28" x2="875.5" y2="878.28" stroke="#43297B" stroke-width="3.8" stroke-linecap="butt"/>
<rect x="845.9" y="855.19" width="38.6" height="16.73" fill="none" stroke="#43297B" stroke-width="3.8" stroke-linejoin="round"/>
<line x1="845.9" y1="869.25" x2="884.5" y2="869.25" stroke="#43297B" stroke-width="3.8" stroke-linecap="butt"/>
<polygon points="865.2,847.47 871.2,836.67 859.2,836.67" fill="#43297B"/>
<polygon points="850.2,868.55 856.2,857.75 844.2,857.75" fill="#43297B"/>
<polygon points="865.2,873.57 871.2,862.77 859.2,862.77" fill="#43297B"/>
<polygon points="881.2,876.25 887.2,865.45 875.2,865.45" fill="#43297B"/>
<polygon points="849.2,885.28 855.2,874.48 843.2,874.48" fill="#43297B"/>
<line x1="928.6" y1="737.75" x2="928.6" y2="769.2" stroke="#8B6AB2" stroke-width="3.5" stroke-linecap="butt"/>
<line x1="928.6" y1="842.48" x2="928.6" y2="851.51" stroke="#8B6AB2" stroke-width="3.5" stroke-linecap="butt"/>
<line x1="918.3" y1="737.75" x2="938.9" y2="737.75" stroke="#8B6AB2" stroke-width="3.5" stroke-linecap="butt"/>
<line x1="918.3" y1="851.51" x2="938.9" y2="851.51" stroke="#8B6AB2" stroke-width="3.5" stroke-linecap="butt"/>
<rect x="909.3" y="769.2" width="38.6" height="73.28" fill="none" stroke="#8B6AB2" stroke-width="3.5" stroke-linejoin="round"/>
<line x1="909.3" y1="835.12" x2="947.9" y2="835.12" stroke="#8B6AB2" stroke-width="3.5" stroke-linecap="butt"/>
<polygon points="928.6,731.75 934.6,737.75 928.6,743.75 922.6,737.75" fill="#8B6AB2"/>
<polygon points="928.6,789.97 934.6,795.97 928.6,801.97 922.6,795.97" fill="#8B6AB2"/>
<polygon points="919.1,829.12 925.1,835.12 919.1,841.12 913.1,835.12" fill="#8B6AB2"/>
<polygon points="939.1,829.78 945.1,835.78 939.1,841.78 933.1,835.78" fill="#8B6AB2"/>
<polygon points="928.6,845.51 934.6,851.51 928.6,857.51 922.6,851.51" fill="#8B6AB2"/>
<line x1="992" y1="645.73" x2="992" y2="724.03" stroke="#6DC7EF" stroke-width="3.5" stroke-linecap="butt"/>
<line x1="992" y1="862.55" x2="992" y2="865.56" stroke="#6DC7EF" stroke-width="3.5" stroke-linecap="butt"/>
<line x1="981.7" y1="645.73" x2="1002.3" y2="645.73" stroke="#6DC7EF" stroke-width="3.5" stroke-linecap="butt"/>
<line x1="981.7" y1="865.56" x2="1002.3" y2="865.56" stroke="#6DC7EF" stroke-width="3.5" stroke-linecap="butt"/>
<rect x="972.7" y="724.03" width="38.6" height="138.52" fill="none" stroke="#6DC7EF" stroke-width="3.5" stroke-linejoin="round"/>
<line x1="972.7" y1="823.74" x2="1011.3" y2="823.74" stroke="#6DC7EF" stroke-width="3.5" stroke-linecap="butt"/>
<circle cx="992" cy="645.73" r="6.3" fill="#6DC7EF"/>
<circle cx="992" cy="799.31" r="6.3" fill="#6DC7EF"/>
<circle cx="992" cy="823.74" r="6.3" fill="#6DC7EF"/>
<circle cx="1002" cy="861.55" r="6.3" fill="#6DC7EF"/>
<circle cx="982" cy="865.9" r="6.3" fill="#6DC7EF"/>
<text x="929.5" y="733.7" font-size="30" text-anchor="middle" fill="#000">*</text>
<text x="992" y="636.2" font-size="30" text-anchor="middle" fill="#000">*</text>
<text x="11.5" y="1084.5" font-size="55.5" text-anchor="start" fill="#000">f</text>
<line x1="98" y1="1099.78" x2="98" y2="1437.5" stroke="#000" stroke-width="3.8" stroke-linecap="butt"/>
<line x1="96.1" y1="1435.6" x2="501.3" y2="1435.6" stroke="#000" stroke-width="3.8" stroke-linecap="butt"/>
<line x1="84.2" y1="1435.6" x2="98" y2="1435.6" stroke="#000" stroke-width="3.8" stroke-linecap="butt"/>
<text x="82" y="1444.8" font-size="32.5" text-anchor="end" fill="#000">0</text>
<line x1="84.2" y1="1352.12" x2="98" y2="1352.12" stroke="#000" stroke-width="3.8" stroke-linecap="butt"/>
<text x="82" y="1361.32" font-size="32.5" text-anchor="end" fill="#000">2</text>
<line x1="84.2" y1="1268.64" x2="98" y2="1268.64" stroke="#000" stroke-width="3.8" stroke-linecap="butt"/>
<text x="82" y="1277.84" font-size="32.5" text-anchor="end" fill="#000">4</text>
<line x1="84.2" y1="1185.16" x2="98" y2="1185.16" stroke="#000" stroke-width="3.8" stroke-linecap="butt"/>
<text x="82" y="1194.36" font-size="32.5" text-anchor="end" fill="#000">6</text>
<line x1="84.2" y1="1101.68" x2="98" y2="1101.68" stroke="#000" stroke-width="3.8" stroke-linecap="butt"/>
<text x="82" y="1110.88" font-size="32.5" text-anchor="end" fill="#000">8</text>
<line x1="159.2" y1="1435.6" x2="159.2" y2="1450.1" stroke="#000" stroke-width="3.8" stroke-linecap="butt"/>
<line x1="252" y1="1435.6" x2="252" y2="1450.1" stroke="#000" stroke-width="3.8" stroke-linecap="butt"/>
<line x1="344.5" y1="1435.6" x2="344.5" y2="1450.1" stroke="#000" stroke-width="3.8" stroke-linecap="butt"/>
<line x1="437.5" y1="1435.6" x2="437.5" y2="1450.1" stroke="#000" stroke-width="3.8" stroke-linecap="butt"/>
<text x="48" y="1250.4" font-size="32.5" text-anchor="middle" fill="#000" transform="rotate(-90 48 1250.4)">Relative mRNA level</text>
<text x="158.7" y="1475.5" font-size="32.5" text-anchor="middle" fill="#000">-</text>
<text x="252.5" y="1475.5" font-size="32.5" text-anchor="middle" fill="#000">+</text>
<text x="344" y="1475.5" font-size="32.5" text-anchor="middle" fill="#000">-</text>
<text x="438" y="1475.5" font-size="32.5" text-anchor="middle" fill="#000">+</text>
<text x="23" y="1481.6" font-size="32.5" text-anchor="start" fill="#000">AICAR</text>
<line x1="118.3" y1="1491.4" x2="279.3" y2="1491.4" stroke="#000" stroke-width="2.4" stroke-linecap="butt"/>
<line x1="305.5" y1="1491.4" x2="466.3" y2="1491.4" stroke="#000" stroke-width="2.4" stroke-linecap="butt"/>
<text x="194.4" y="1527.8" font-size="30.1" text-anchor="middle" fill="#000">Control siRNA</text>
<text x="390.2" y="1527.8" font-size="30.1" text-anchor="middle" fill="#000">AMPK siRNA</text>
<line x1="156.3" y1="1174.5" x2="245.8" y2="1174.5" stroke="#000" stroke-width="5" stroke-linecap="butt"/>
<line x1="343.8" y1="1359" x2="435.8" y2="1359" stroke="#000" stroke-width="5" stroke-linecap="butt"/>
<text x="201.3" y="1168.3" font-size="31" text-anchor="middle" fill="#000">**</text>
<text x="391.8" y="1342.3" font-size="32.5" text-anchor="middle" fill="#000">ns</text>
<line x1="159.2" y1="1390.52" x2="159.2" y2="1393.86" stroke="#000" stroke-width="3.2" stroke-linecap="butt"/>
<line x1="159.2" y1="1398.03" x2="159.2" y2="1401.79" stroke="#000" stroke-width="3.2" stroke-linecap="butt"/>
<line x1="143.2" y1="1390.52" x2="175.2" y2="1390.52" stroke="#000" stroke-width="3.2" stroke-linecap="butt"/>
<line x1="143.2" y1="1401.79" x2="175.2" y2="1401.79" stroke="#000" stroke-width="3.2" stroke-linecap="butt"/>
<rect x="139.2" y="1393.86" width="40" height="4.17" fill="none" stroke="#000" stroke-width="3.2" stroke-linejoin="round"/>
<line x1="139.2" y1="1395.53" x2="179.2" y2="1395.53" stroke="#000" stroke-width="3.2" stroke-linecap="butt"/>
<circle cx="132.2" cy="1396.36" r="5.6" fill="#000"/>
<circle cx="146.2" cy="1391.77" r="5.6" fill="#000"/>
<circle cx="158.2" cy="1393.86" r="5.6" fill="#000"/>
<circle cx="170.2" cy="1391.77" r="5.6" fill="#000"/>
<circle cx="184.2" cy="1390.1" r="5.6" fill="#000"/>
<circle cx="184.2" cy="1401.37" r="5.6" fill="#000"/>
<line x1="252" y1="1194.76" x2="252" y2="1274.07" stroke="#EB1E63" stroke-width="3" stroke-linecap="butt"/>
<line x1="252" y1="1383.01" x2="252" y2="1389.69" stroke="#EB1E63" stroke-width="3" stroke-linecap="butt"/>
<line x1="237" y1="1194.76" x2="267" y2="1194.76" stroke="#EB1E63" stroke-width="3" stroke-linecap="butt"/>
<line x1="237" y1="1389.69" x2="267" y2="1389.69" stroke="#EB1E63" stroke-width="3" stroke-linecap="butt"/>
<rect x="223.5" y="1274.07" width="57" height="108.94" fill="none" stroke="#EB1E63" stroke-width="3" stroke-linejoin="round"/>
<line x1="223.5" y1="1330.83" x2="280.5" y2="1330.83" stroke="#EB1E63" stroke-width="3" stroke-linecap="butt"/>
<rect x="246.3" y="1189.06" width="11.4" height="11.4" fill="#EB1E63"/>
<rect x="236.3" y="1292.58" width="11.4" height="11.4" fill="#EB1E63"/>
<rect x="256.3" y="1296.33" width="11.4" height="11.4" fill="#EB1E63"/>
<rect x="246.3" y="1353.93" width="11.4" height="11.4" fill="#EB1E63"/>
<rect x="256.3" y="1377.31" width="11.4" height="11.4" fill="#EB1E63"/>
<rect x="236.3" y="1382.73" width="11.4" height="11.4" fill="#EB1E63"/>
<line x1="344.5" y1="1397.62" x2="344.5" y2="1406.8" stroke="#17807F" stroke-width="3.4" stroke-linecap="butt"/>
<line x1="344.5" y1="1415.15" x2="344.5" y2="1423.08" stroke="#17807F" stroke-width="3.4" stroke-linecap="butt"/>
<line x1="329.5" y1="1397.62" x2="359.5" y2="1397.62" stroke="#17807F" stroke-width="3.4" stroke-linecap="butt"/>
<line x1="329.5" y1="1423.08" x2="359.5" y2="1423.08" stroke="#17807F" stroke-width="3.4" stroke-linecap="butt"/>
<rect x="314.5" y="1406.8" width="60" height="8.35" fill="#17807F" stroke="#17807F" stroke-width="3.4" stroke-linejoin="round"/>
<line x1="314.5" y1="1410.56" x2="374.5" y2="1410.56" stroke="#17807F" stroke-width="3.4" stroke-linecap="butt"/>
<polygon points="344.5,1391.28 350,1401.18 339,1401.18" fill="#17807F"/>
<polygon points="318.5,1402.55 324,1412.45 313,1412.45" fill="#17807F"/>
<polygon points="370.5,1407.14 376,1417.04 365,1417.04" fill="#17807F"/>
<polygon points="344.5,1419.25 350,1429.15 339,1429.15" fill="#17807F"/>
<line x1="437.5" y1="1390.94" x2="437.5" y2="1395.11" stroke="#43297B" stroke-width="3.4" stroke-linecap="butt"/>
<line x1="437.5" y1="1404.71" x2="437.5" y2="1406.38" stroke="#43297B" stroke-width="3.4" stroke-linecap="butt"/>
<line x1="422.5" y1="1390.94" x2="452.5" y2="1390.94" stroke="#43297B" stroke-width="3.4" stroke-linecap="butt"/>
<line x1="422.5" y1="1406.38" x2="452.5" y2="1406.38" stroke="#43297B" stroke-width="3.4" stroke-linecap="butt"/>
<rect x="407.5" y="1395.11" width="60" height="9.6" fill="#43297B" stroke="#43297B" stroke-width="3.4" stroke-linejoin="round"/>
<line x1="407.5" y1="1399.29" x2="467.5" y2="1399.29" stroke="#43297B" stroke-width="3.4" stroke-linecap="butt"/>
<polygon points="437.5,1397.27 443,1387.37 432,1387.37" fill="#43297B"/>
<polygon points="410.5,1407.71 416,1397.81 405,1397.81" fill="#43297B"/>
<polygon points="464.5,1405.62 470,1395.72 459,1395.72" fill="#43297B"/>
<polygon points="410.5,1411.05 416,1401.15 405,1401.15" fill="#43297B"/>
<text x="537.5" y="1085" font-size="56.5" text-anchor="start" fill="#000">g</text>
<line x1="630" y1="1097.9" x2="630" y2="1436.8" stroke="#000" stroke-width="3.8" stroke-linecap="butt"/>
<line x1="628.1" y1="1434.9" x2="1035" y2="1434.9" stroke="#000" stroke-width="3.8" stroke-linecap="butt"/>
<line x1="616.2" y1="1434.9" x2="630" y2="1434.9" stroke="#000" stroke-width="3.8" stroke-linecap="butt"/>
<text x="614.4" y="1444.4" font-size="32.5" text-anchor="end" fill="#000">0</text>
<line x1="616.2" y1="1367.88" x2="630" y2="1367.88" stroke="#000" stroke-width="3.8" stroke-linecap="butt"/>
<text x="614.4" y="1377.38" font-size="32.5" text-anchor="end" fill="#000">1</text>
<line x1="616.2" y1="1300.86" x2="630" y2="1300.86" stroke="#000" stroke-width="3.8" stroke-linecap="butt"/>
<text x="614.4" y="1310.36" font-size="32.5" text-anchor="end" fill="#000">2</text>
<line x1="616.2" y1="1233.84" x2="630" y2="1233.84" stroke="#000" stroke-width="3.8" stroke-linecap="butt"/>
<text x="614.4" y="1243.34" font-size="32.5" text-anchor="end" fill="#000">3</text>
<line x1="616.2" y1="1166.82" x2="630" y2="1166.82" stroke="#000" stroke-width="3.8" stroke-linecap="butt"/>
<text x="614.4" y="1176.32" font-size="32.5" text-anchor="end" fill="#000">4</text>
<line x1="616.2" y1="1099.8" x2="630" y2="1099.8" stroke="#000" stroke-width="3.8" stroke-linecap="butt"/>
<text x="614.4" y="1109.3" font-size="32.5" text-anchor="end" fill="#000">5</text>
<line x1="691.8" y1="1434.9" x2="691.8" y2="1449.4" stroke="#000" stroke-width="3.8" stroke-linecap="butt"/>
<line x1="784.3" y1="1434.9" x2="784.3" y2="1449.4" stroke="#000" stroke-width="3.8" stroke-linecap="butt"/>
<line x1="877" y1="1434.9" x2="877" y2="1449.4" stroke="#000" stroke-width="3.8" stroke-linecap="butt"/>
<line x1="969.5" y1="1434.9" x2="969.5" y2="1449.4" stroke="#000" stroke-width="3.8" stroke-linecap="butt"/>
<text x="580.2" y="1250" font-size="32.5" text-anchor="middle" fill="#000" transform="rotate(-90 580.2 1250)">Relative mRNA level</text>
<text x="693.1" y="1473.5" font-size="32.5" text-anchor="middle" fill="#000">-</text>
<text x="787.8" y="1473.5" font-size="32.5" text-anchor="middle" fill="#000">+</text>
<text x="878.3" y="1473.5" font-size="32.5" text-anchor="middle" fill="#000">-</text>
<text x="973" y="1473.5" font-size="32.5" text-anchor="middle" fill="#000">+</text>
<text x="521" y="1480.5" font-size="32.5" text-anchor="start" fill="#000">Metformin</text>
<line x1="664.5" y1="1491.4" x2="825" y2="1491.4" stroke="#000" stroke-width="2.4" stroke-linecap="butt"/>
<line x1="851.3" y1="1491.4" x2="1011.8" y2="1491.4" stroke="#000" stroke-width="2.4" stroke-linecap="butt"/>
<text x="749.9" y="1527.8" font-size="30.1" text-anchor="middle" fill="#000">Control siRNA</text>
<text x="949.6" y="1527.8" font-size="30.1" text-anchor="middle" fill="#000">AMPK siRNA</text>
<line x1="693" y1="1172.5" x2="784.3" y2="1172.5" stroke="#000" stroke-width="5" stroke-linecap="butt"/>
<line x1="881.3" y1="1308.3" x2="970" y2="1308.3" stroke="#000" stroke-width="5" stroke-linecap="butt"/>
<text x="739" y="1165.3" font-size="31" text-anchor="middle" fill="#000">**</text>
<text x="926.3" y="1290.5" font-size="32.5" text-anchor="middle" fill="#000">ns</text>
<line x1="691.8" y1="1360.51" x2="691.8" y2="1365.87" stroke="#000" stroke-width="3" stroke-linecap="butt"/>
<line x1="691.8" y1="1372.91" x2="691.8" y2="1380.61" stroke="#000" stroke-width="3" stroke-linecap="butt"/>
<line x1="676.8" y1="1360.51" x2="706.8" y2="1360.51" stroke="#000" stroke-width="3" stroke-linecap="butt"/>
<line x1="676.8" y1="1380.61" x2="706.8" y2="1380.61" stroke="#000" stroke-width="3" stroke-linecap="butt"/>
<rect x="662.8" y="1365.87" width="58" height="7.04" fill="none" stroke="#000" stroke-width="3" stroke-linejoin="round"/>
<line x1="662.8" y1="1369.22" x2="720.8" y2="1369.22" stroke="#000" stroke-width="3" stroke-linecap="butt"/>
<circle cx="665.8" cy="1367.88" r="5.6" fill="#000"/>
<circle cx="681.8" cy="1365.87" r="5.6" fill="#000"/>
<circle cx="699.8" cy="1361.18" r="5.6" fill="#000"/>
<circle cx="716.8" cy="1365.87" r="5.6" fill="#000"/>
<circle cx="699.8" cy="1369.89" r="5.6" fill="#000"/>
<circle cx="681.8" cy="1379.94" r="5.6" fill="#000"/>
<line x1="784.3" y1="1196.98" x2="784.3" y2="1233.84" stroke="#EB1E63" stroke-width="3" stroke-linecap="butt"/>
<line x1="784.3" y1="1336.38" x2="784.3" y2="1351.12" stroke="#EB1E63" stroke-width="3" stroke-linecap="butt"/>
<line x1="769.3" y1="1196.98" x2="799.3" y2="1196.98" stroke="#EB1E63" stroke-width="3" stroke-linecap="butt"/>
<line x1="769.3" y1="1351.12" x2="799.3" y2="1351.12" stroke="#EB1E63" stroke-width="3" stroke-linecap="butt"/>
<rect x="755.8" y="1233.84" width="57" height="102.54" fill="none" stroke="#EB1E63" stroke-width="3" stroke-linejoin="round"/>
<line x1="755.8" y1="1281.42" x2="812.8" y2="1281.42" stroke="#EB1E63" stroke-width="3" stroke-linecap="butt"/>
<rect x="778.6" y="1191.28" width="11.4" height="11.4" fill="#EB1E63"/>
<rect x="768.6" y="1238.86" width="11.4" height="11.4" fill="#EB1E63"/>
<rect x="788.6" y="1248.25" width="11.4" height="11.4" fill="#EB1E63"/>
<rect x="778.6" y="1303.87" width="11.4" height="11.4" fill="#EB1E63"/>
<rect x="778.6" y="1329.34" width="11.4" height="11.4" fill="#EB1E63"/>
<rect x="778.6" y="1344.75" width="11.4" height="11.4" fill="#EB1E63"/>
<line x1="877" y1="1373.91" x2="877" y2="1387.99" stroke="#17807F" stroke-width="3.4" stroke-linecap="butt"/>
<line x1="877" y1="1399.38" x2="877" y2="1415.46" stroke="#17807F" stroke-width="3.4" stroke-linecap="butt"/>
<line x1="862" y1="1373.91" x2="892" y2="1373.91" stroke="#17807F" stroke-width="3.4" stroke-linecap="butt"/>
<line x1="862" y1="1415.46" x2="892" y2="1415.46" stroke="#17807F" stroke-width="3.4" stroke-linecap="butt"/>
<rect x="848" y="1387.99" width="58" height="11.39" fill="none" stroke="#17807F" stroke-width="3.4" stroke-linejoin="round"/>
<line x1="848" y1="1394.02" x2="906" y2="1394.02" stroke="#17807F" stroke-width="3.4" stroke-linecap="butt"/>
<polygon points="877,1367.07 882.5,1376.97 871.5,1376.97" fill="#17807F"/>
<polygon points="852,1384.5 857.5,1394.4 846.5,1394.4" fill="#17807F"/>
<polygon points="877,1390.53 882.5,1400.43 871.5,1400.43" fill="#17807F"/>
<polygon points="902,1390.53 907.5,1400.43 896.5,1400.43" fill="#17807F"/>
<polygon points="887,1391.87 892.5,1401.77 881.5,1401.77" fill="#17807F"/>
<polygon points="877,1411.97 882.5,1421.87 871.5,1421.87" fill="#17807F"/>
<line x1="969.5" y1="1329.01" x2="969.5" y2="1335.38" stroke="#43297B" stroke-width="3.4" stroke-linecap="butt"/>
<line x1="969.5" y1="1406.75" x2="969.5" y2="1418.14" stroke="#43297B" stroke-width="3.4" stroke-linecap="butt"/>
<line x1="954.5" y1="1329.01" x2="984.5" y2="1329.01" stroke="#43297B" stroke-width="3.4" stroke-linecap="butt"/>
<line x1="954.5" y1="1418.14" x2="984.5" y2="1418.14" stroke="#43297B" stroke-width="3.4" stroke-linecap="butt"/>
<rect x="941" y="1335.38" width="57" height="71.38" fill="none" stroke="#43297B" stroke-width="3.4" stroke-linejoin="round"/>
<line x1="941" y1="1391.34" x2="998" y2="1391.34" stroke="#43297B" stroke-width="3.4" stroke-linecap="butt"/>
<polygon points="959.5,1340.17 965.3,1329.73 953.7,1329.73" fill="#43297B"/>
<polygon points="979.5,1333.47 985.3,1323.03 973.7,1323.03" fill="#43297B"/>
<polygon points="969.5,1385.07 975.3,1374.63 963.7,1374.63" fill="#43297B"/>
<polygon points="959.5,1405.18 965.3,1394.74 953.7,1394.74" fill="#43297B"/>
<polygon points="979.5,1409.2 985.3,1398.76 973.7,1398.76" fill="#43297B"/>
<polygon points="969.5,1423.94 975.3,1413.5 963.7,1413.5" fill="#43297B"/>
<text x="1085" y="556" font-size="55" text-anchor="start" fill="#000">h</text>
<text x="1297.5" y="587" font-size="32.5" text-anchor="middle" fill="#000">Control</text>
<text x="1530.5" y="587" font-size="32.5" text-anchor="middle" fill="#000">IKO</text>
<line x1="1201" y1="604" x2="1397.5" y2="604" stroke="#222" stroke-width="1.8" stroke-linecap="butt"/>
<line x1="1419" y1="604" x2="1616" y2="604" stroke="#222" stroke-width="1.8" stroke-linecap="butt"/>
<text x="1243.5" y="645.5" font-size="27.8" text-anchor="middle" fill="#000">Vehicle</text>
<text x="1354.5" y="645.5" font-size="27.8" text-anchor="middle" fill="#000">Metformin</text>
<text x="1464" y="645.5" font-size="27.8" text-anchor="middle" fill="#000">Vehicle</text>
<text x="1579" y="645.5" font-size="27.8" text-anchor="middle" fill="#000">Metformin</text>
<line x1="1201" y1="658" x2="1292" y2="658" stroke="#222" stroke-width="1.8" stroke-linecap="butt"/>
<line x1="1309" y1="658" x2="1399.5" y2="658" stroke="#222" stroke-width="1.8" stroke-linecap="butt"/>
<line x1="1414" y1="658" x2="1505.5" y2="658" stroke="#222" stroke-width="1.8" stroke-linecap="butt"/>
<line x1="1519.5" y1="658" x2="1611" y2="658" stroke="#222" stroke-width="1.8" stroke-linecap="butt"/>
<text x="1127" y="704" font-size="32.5" text-anchor="middle" fill="#000">Reg3γ</text>
<text x="1128.5" y="757" font-size="32.5" text-anchor="middle" fill="#000">GAPDH</text>
<clipPath id="c691"><rect x="1194" y="675.3" width="428" height="38.3"/></clipPath>
<rect x="1194" y="675.3" width="428" height="38.3" fill="#e8e8e8"/>
<g clip-path="url(#c691)"><g filter="url(#b8)">
<ellipse cx="1322.07" cy="693.71" rx="17.08" ry="7.95" fill="#0c0c0c" fill-opacity="0.3"/>
<ellipse cx="1355.78" cy="693.39" rx="20.68" ry="17.34" fill="#0c0c0c" fill-opacity="0.3"/>
<ellipse cx="1389.81" cy="693.39" rx="14.92" ry="6.74" fill="#0c0c0c" fill-opacity="0.29"/>
</g><g filter="url(#b4)">
<path d="M1199.66 692.11 C1203.74 688.68 1220.47 688.68 1224.55 692.11 C1220.47 695.53 1203.74 695.53 1199.66 692.11Z" fill="#0c0c0c" fill-opacity="0.32"/>
<path d="M1239.8 694.03 C1242.75 691.34 1255.31 691.34 1258.26 694.03 C1255.31 696.73 1242.75 696.73 1239.8 694.03Z" fill="#0c0c0c" fill-opacity="0.05"/>
<path d="M1271.9 693.39 C1275.7 690.33 1291.39 690.33 1295.18 693.39 C1291.39 696.45 1275.7 696.45 1271.9 693.39Z" fill="#0c0c0c" fill-opacity="0.24"/>
<path d="M1307.22 693.71 C1312.14 688.65 1332 688.65 1336.92 693.71 C1332 698.77 1312.14 698.77 1307.22 693.71Z" fill="#0c0c0c" fill-opacity="1"/>
<ellipse cx="1355.78" cy="693.39" rx="17.26" ry="9.22" fill="#0c0c0c" fill-opacity="1"/>
<path d="M1376.89 693.39 C1381.13 689.24 1398.49 689.24 1402.74 693.39 C1398.49 697.54 1381.13 697.54 1376.89 693.39Z" fill="#0c0c0c" fill-opacity="0.97"/>
<path d="M1413.17 693.07 C1417.24 689.46 1433.98 689.46 1438.05 693.07 C1433.98 696.67 1417.24 696.67 1413.17 693.07Z" fill="#0c0c0c" fill-opacity="0.32"/>
<path d="M1482.19 692.43 C1486.83 687.73 1505.65 687.73 1510.29 692.43 C1505.65 697.13 1486.83 697.13 1482.19 692.43Z" fill="#0c0c0c" fill-opacity="0.48"/>
<path d="M1517.51 692.75 C1521.02 689.69 1535.67 689.69 1539.19 692.75 C1535.67 695.81 1521.02 695.81 1517.51 692.75Z" fill="#0c0c0c" fill-opacity="0.08"/>
<path d="M1554.43 694.03 C1557.95 690.97 1572.59 690.97 1576.11 694.03 C1572.59 697.09 1557.95 697.09 1554.43 694.03Z" fill="#0c0c0c" fill-opacity="0.08"/>
<path d="M1592.96 693.39 C1597.03 688.87 1613.77 688.87 1617.84 693.39 C1613.77 697.91 1597.03 697.91 1592.96 693.39Z" fill="#0c0c0c" fill-opacity="0.42"/>
</g></g>
<rect x="1194" y="675.3" width="428" height="38.3" fill="none" stroke="#1c1c1c" stroke-width="2.1"/>
<clipPath id="c711"><rect x="1194" y="732.3" width="428" height="33.8"/></clipPath>
<rect x="1194" y="732.3" width="428" height="33.8" fill="#e5e5e5"/>
<g clip-path="url(#c711)"><g filter="url(#b8)">
<ellipse cx="1214.67" cy="747.01" rx="18.7" ry="7.22" fill="#0c0c0c" fill-opacity="0.3"/>
<ellipse cx="1249.03" cy="748.29" rx="18.7" ry="7.22" fill="#0c0c0c" fill-opacity="0.3"/>
<ellipse cx="1283.7" cy="748.29" rx="18.7" ry="7.22" fill="#0c0c0c" fill-opacity="0.3"/>
<ellipse cx="1319.66" cy="748.29" rx="18.7" ry="7.22" fill="#0c0c0c" fill-opacity="0.3"/>
<ellipse cx="1355.94" cy="748.29" rx="18.7" ry="7.22" fill="#0c0c0c" fill-opacity="0.3"/>
<ellipse cx="1390.29" cy="748.29" rx="18.7" ry="7.22" fill="#0c0c0c" fill-opacity="0.3"/>
<ellipse cx="1425.61" cy="748.29" rx="18.7" ry="7.95" fill="#0c0c0c" fill-opacity="0.3"/>
<ellipse cx="1459.32" cy="748.29" rx="18.7" ry="7.95" fill="#0c0c0c" fill-opacity="0.3"/>
<ellipse cx="1494.64" cy="748.29" rx="18.7" ry="7.95" fill="#0c0c0c" fill-opacity="0.3"/>
<ellipse cx="1529.95" cy="748.29" rx="18.7" ry="9.15" fill="#0c0c0c" fill-opacity="0.3"/>
<ellipse cx="1566.88" cy="748.29" rx="18.7" ry="9.15" fill="#0c0c0c" fill-opacity="0.3"/>
<ellipse cx="1602.19" cy="748.29" rx="18.7" ry="9.15" fill="#0c0c0c" fill-opacity="0.3"/>
</g><g filter="url(#b4)">
<rect x="1199.18" y="743.59" width="30.99" height="6.84" rx="3.42" ry="3.42" fill="#0c0c0c" fill-opacity="1"/>
<rect x="1233.53" y="744.87" width="30.99" height="6.84" rx="3.42" ry="3.42" fill="#0c0c0c" fill-opacity="1"/>
<rect x="1268.21" y="744.87" width="30.99" height="6.84" rx="3.42" ry="3.42" fill="#0c0c0c" fill-opacity="1"/>
<rect x="1304.17" y="744.87" width="30.99" height="6.84" rx="3.42" ry="3.42" fill="#0c0c0c" fill-opacity="1"/>
<rect x="1340.44" y="744.87" width="30.99" height="6.84" rx="3.42" ry="3.42" fill="#0c0c0c" fill-opacity="1"/>
<rect x="1374.8" y="744.87" width="30.99" height="6.84" rx="3.42" ry="3.42" fill="#0c0c0c" fill-opacity="1"/>
<rect x="1410.11" y="744.46" width="30.99" height="7.67" rx="3.84" ry="3.84" fill="#0c0c0c" fill-opacity="1"/>
<rect x="1443.83" y="744.46" width="30.99" height="7.67" rx="3.84" ry="3.84" fill="#0c0c0c" fill-opacity="1"/>
<rect x="1479.14" y="744.46" width="30.99" height="7.67" rx="3.84" ry="3.84" fill="#0c0c0c" fill-opacity="1"/>
<rect x="1514.46" y="743.76" width="30.99" height="9.05" rx="4.53" ry="4.53" fill="#0c0c0c" fill-opacity="1"/>
<rect x="1551.38" y="743.76" width="30.99" height="9.05" rx="4.53" ry="4.53" fill="#0c0c0c" fill-opacity="1"/>
<rect x="1586.7" y="743.76" width="30.99" height="9.05" rx="4.53" ry="4.53" fill="#0c0c0c" fill-opacity="1"/>
</g></g>
<rect x="1194" y="732.3" width="428" height="33.8" fill="none" stroke="#1c1c1c" stroke-width="2.1"/>
<line x1="1622.5" y1="693.5" x2="1630.5" y2="693.5" stroke="#222" stroke-width="1.8" stroke-linecap="butt"/>
<line x1="1622.5" y1="748.5" x2="1630.5" y2="748.5" stroke="#222" stroke-width="1.8" stroke-linecap="butt"/>
<text x="1635" y="704" font-size="32" text-anchor="start" fill="#000">16 kDa</text>
<text x="1637.5" y="757" font-size="32" text-anchor="start" fill="#000">37 kDa</text>
<text x="1085.5" y="847.8" font-size="55" text-anchor="start" fill="#000">i</text>
<text x="1331.5" y="882.7" font-size="32.5" text-anchor="middle" fill="#000">Non-T2D</text>
<text x="1513.7" y="882.7" font-size="32.5" text-anchor="middle" fill="#000">T2D</text>
<line x1="1235.5" y1="898.7" x2="1414" y2="898.7" stroke="#222" stroke-width="1.8" stroke-linecap="butt"/>
<line x1="1427.5" y1="898.7" x2="1606" y2="898.7" stroke="#222" stroke-width="1.8" stroke-linecap="butt"/>
<text x="1158.5" y="938.5" font-size="32.5" text-anchor="middle" fill="#000">p-AMPK</text>
<text x="1156" y="982.5" font-size="32.5" text-anchor="middle" fill="#000">AMPK</text>
<text x="1157" y="1026.3" font-size="32.5" text-anchor="middle" fill="#000">Reg3a</text>
<text x="1158" y="1079" font-size="32.5" text-anchor="middle" fill="#000">GAPDH</text>
<clipPath id="c754"><rect x="1227.5" y="916.7" width="383" height="26.6"/></clipPath>
<rect x="1227.5" y="916.7" width="383" height="26.6" fill="url(#gi1)"/>
<g clip-path="url(#c754)"><g filter="url(#b8)">
<ellipse cx="1247.97" cy="930.99" rx="15.31" ry="7.75" fill="#0c0c0c" fill-opacity="0.29"/>
<ellipse cx="1323.92" cy="930.99" rx="15.31" ry="7.75" fill="#0c0c0c" fill-opacity="0.28"/>
<ellipse cx="1361.44" cy="930.99" rx="18.2" ry="12.3" fill="#0c0c0c" fill-opacity="0.3"/>
<ellipse cx="1398.35" cy="930.99" rx="15.31" ry="7.29" fill="#0c0c0c" fill-opacity="0.26"/>
</g><g filter="url(#b4)">
<path d="M1234.7 930.99 C1239.07 926.07 1256.88 926.07 1261.25 930.99 C1256.88 935.9 1239.07 935.9 1234.7 930.99Z" fill="#0c0c0c" fill-opacity="0.97"/>
<path d="M1272.68 931.29 C1277.04 927.41 1294.85 927.41 1299.22 931.29 C1294.85 935.17 1277.04 935.17 1272.68 931.29Z" fill="#0c0c0c" fill-opacity="0.5"/>
<path d="M1310.65 930.99 C1315.02 926.07 1332.83 926.07 1337.19 930.99 C1332.83 935.9 1315.02 935.9 1310.65 930.99Z" fill="#0c0c0c" fill-opacity="0.92"/>
<path d="M1345.59 930.99 C1350.86 922.63 1372.03 922.63 1377.29 930.99 C1372.03 939.35 1350.86 939.35 1345.59 930.99Z" fill="#0c0c0c" fill-opacity="1"/>
<path d="M1385.08 930.99 C1389.45 926.42 1407.26 926.42 1411.62 930.99 C1407.26 935.55 1389.45 935.55 1385.08 930.99Z" fill="#0c0c0c" fill-opacity="0.85"/>
<path d="M1424.58 931.29 C1428.94 927.41 1446.75 927.41 1451.12 931.29 C1446.75 935.17 1428.94 935.17 1424.58 931.29Z" fill="#0c0c0c" fill-opacity="0.33"/>
<path d="M1459.51 930.99 C1463.88 926.76 1481.69 926.76 1486.05 930.99 C1481.69 935.21 1463.88 935.21 1459.51 930.99Z" fill="#0c0c0c" fill-opacity="0.5"/>
<path d="M1497.49 931.29 C1501.85 927.41 1519.66 927.41 1524.03 931.29 C1519.66 935.17 1501.85 935.17 1497.49 931.29Z" fill="#0c0c0c" fill-opacity="0.36"/>
<path d="M1535.46 930.99 C1539.82 927.11 1557.64 927.11 1562 930.99 C1557.64 934.86 1539.82 934.86 1535.46 930.99Z" fill="#0c0c0c" fill-opacity="0.45"/>
</g></g>
<rect x="1227.5" y="916.7" width="383" height="26.6" fill="none" stroke="#1c1c1c" stroke-width="2.1"/>
<clipPath id="c773"><rect x="1227.5" y="953.8" width="383" height="34.3"/></clipPath>
<rect x="1227.5" y="953.8" width="383" height="34.3" fill="#eeeeee"/>
<g clip-path="url(#c773)"><g filter="url(#b8)">
<ellipse cx="1247.97" cy="971.09" rx="13.61" ry="5.01" fill="#0c0c0c" fill-opacity="0.22"/>
<ellipse cx="1286.71" cy="972" rx="14.46" ry="5.24" fill="#0c0c0c" fill-opacity="0.27"/>
<ellipse cx="1324.68" cy="972.3" rx="14.46" ry="7.29" fill="#0c0c0c" fill-opacity="0.3"/>
<ellipse cx="1361.9" cy="972.3" rx="17.01" ry="9.57" fill="#0c0c0c" fill-opacity="0.3"/>
<ellipse cx="1401.69" cy="972.3" rx="20.07" ry="8.2" fill="#0c0c0c" fill-opacity="0.3"/>
<ellipse cx="1441.64" cy="972.3" rx="17.86" ry="8.89" fill="#0c0c0c" fill-opacity="0.3"/>
<ellipse cx="1478.1" cy="972.3" rx="14.46" ry="6.84" fill="#0c0c0c" fill-opacity="0.3"/>
<ellipse cx="1515.31" cy="972" rx="15.31" ry="6.84" fill="#0c0c0c" fill-opacity="0.3"/>
</g><g filter="url(#b4)">
<path d="M1236.22 971.09 C1240.06 968.24 1255.89 968.24 1259.73 971.09 C1255.89 973.93 1240.06 973.93 1236.22 971.09Z" fill="#0c0c0c" fill-opacity="0.75"/>
<path d="M1274.2 972 C1278.3 968.98 1295.12 968.98 1299.22 972 C1295.12 975.01 1278.3 975.01 1274.2 972Z" fill="#0c0c0c" fill-opacity="0.9"/>
<path d="M1312.17 972.3 C1316.27 967.74 1333.09 967.74 1337.19 972.3 C1333.09 976.87 1316.27 976.87 1312.17 972.3Z" fill="#0c0c0c" fill-opacity="1"/>
<path d="M1347.11 972.3 C1352 966.01 1371.79 966.01 1376.69 972.3 C1371.79 978.59 1352 978.59 1347.11 972.3Z" fill="#0c0c0c" fill-opacity="1"/>
<path d="M1384.17 972.3 C1390.02 967.05 1413.36 967.05 1419.22 972.3 C1413.36 977.56 1390.02 977.56 1384.17 972.3Z" fill="#0c0c0c" fill-opacity="1"/>
<path d="M1426.09 972.3 C1431.26 966.53 1452.03 966.53 1457.19 972.3 C1452.03 978.08 1431.26 978.08 1426.09 972.3Z" fill="#0c0c0c" fill-opacity="1"/>
<path d="M1465.59 972.3 C1469.69 968.08 1486.51 968.08 1490.61 972.3 C1486.51 976.53 1469.69 976.53 1465.59 972.3Z" fill="#0c0c0c" fill-opacity="1"/>
<path d="M1502.04 972 C1506.41 967.78 1524.22 967.78 1528.58 972 C1524.22 976.22 1506.41 976.22 1502.04 972Z" fill="#0c0c0c" fill-opacity="1"/>
<path d="M1540.02 971.7 C1544.12 968.85 1560.94 968.85 1565.04 971.7 C1560.94 974.54 1544.12 974.54 1540.02 971.7Z" fill="#0c0c0c" fill-opacity="0.06"/>
<path d="M1579.51 971.7 C1583.87 968.85 1601.69 968.85 1606.05 971.7 C1601.69 974.54 1583.87 974.54 1579.51 971.7Z" fill="#0c0c0c" fill-opacity="0.45"/>
</g></g>
<rect x="1227.5" y="953.8" width="383" height="34.3" fill="none" stroke="#1c1c1c" stroke-width="2.1"/>
<clipPath id="c797"><rect x="1227.5" y="1001" width="383" height="29.6"/></clipPath>
<rect x="1227.5" y="1001" width="383" height="29.6" fill="#dfdfdf"/>
<g clip-path="url(#c797)"><g filter="url(#b8)">
<ellipse cx="1245.7" cy="1016.35" rx="14.46" ry="8.66" fill="#0c0c0c" fill-opacity="0.3"/>
<ellipse cx="1284.43" cy="1015.75" rx="15.31" ry="10.03" fill="#0c0c0c" fill-opacity="0.3"/>
<ellipse cx="1322.4" cy="1015.75" rx="13.61" ry="7.29" fill="#0c0c0c" fill-opacity="0.19"/>
<ellipse cx="1361.9" cy="1015.44" rx="15.31" ry="7.52" fill="#0c0c0c" fill-opacity="0.26"/>
<ellipse cx="1400.63" cy="1015.44" rx="16.16" ry="10.03" fill="#0c0c0c" fill-opacity="0.3"/>
<ellipse cx="1480.38" cy="1015.75" rx="15.31" ry="8.66" fill="#0c0c0c" fill-opacity="0.19"/>
</g><g filter="url(#b4)">
<path d="M1233.18 1016.35 C1237.28 1010.75 1254.11 1010.75 1258.21 1016.35 C1254.11 1021.96 1237.28 1021.96 1233.18 1016.35Z" fill="#0c0c0c" fill-opacity="1"/>
<path d="M1271.16 1015.75 C1275.52 1009.11 1293.34 1009.11 1297.7 1015.75 C1293.34 1022.38 1275.52 1022.38 1271.16 1015.75Z" fill="#0c0c0c" fill-opacity="1"/>
<path d="M1310.65 1015.75 C1314.49 1011.18 1330.32 1011.18 1334.16 1015.75 C1330.32 1020.31 1314.49 1020.31 1310.65 1015.75Z" fill="#0c0c0c" fill-opacity="0.62"/>
<path d="M1348.63 1015.44 C1352.99 1010.7 1370.8 1010.7 1375.17 1015.44 C1370.8 1020.18 1352.99 1020.18 1348.63 1015.44Z" fill="#0c0c0c" fill-opacity="0.85"/>
<path d="M1386.6 1015.44 C1391.23 1008.81 1410.03 1008.81 1414.66 1015.44 C1410.03 1022.08 1391.23 1022.08 1386.6 1015.44Z" fill="#0c0c0c" fill-opacity="1"/>
<path d="M1429.13 1016.66 C1432.97 1012.09 1448.8 1012.09 1452.64 1016.66 C1448.8 1021.22 1432.97 1021.22 1429.13 1016.66Z" fill="#0c0c0c" fill-opacity="0.42"/>
<path d="M1467.11 1015.75 C1471.47 1010.14 1489.28 1010.14 1493.65 1015.75 C1489.28 1021.35 1471.47 1021.35 1467.11 1015.75Z" fill="#0c0c0c" fill-opacity="0.62"/>
<path d="M1506.6 1016.35 C1510.7 1011.79 1527.52 1011.79 1531.62 1016.35 C1527.52 1020.92 1510.7 1020.92 1506.6 1016.35Z" fill="#0c0c0c" fill-opacity="0.42"/>
<path d="M1544.57 1015.75 C1548.94 1010.66 1566.75 1010.66 1571.12 1015.75 C1566.75 1020.83 1548.94 1020.83 1544.57 1015.75Z" fill="#0c0c0c" fill-opacity="0.44"/>
<path d="M1585.59 1016.96 C1588.89 1012.39 1602.75 1012.39 1606.05 1016.96 C1602.75 1021.53 1588.89 1021.53 1585.59 1016.96Z" fill="#0c0c0c" fill-opacity="0.33"/>
</g></g>
<rect x="1227.5" y="1001" width="383" height="29.6" fill="none" stroke="#1c1c1c" stroke-width="2.1"/>
<clipPath id="c819"><rect x="1227.5" y="1042.3" width="383" height="39"/></clipPath>
<rect x="1227.5" y="1042.3" width="383" height="39" fill="#e8e8e8"/>
<g clip-path="url(#c819)"><g filter="url(#b8)">
<ellipse cx="1247.21" cy="1061.31" rx="16.16" ry="9.57" fill="#0c0c0c" fill-opacity="0.3"/>
<ellipse cx="1285.19" cy="1062.23" rx="14.46" ry="8.66" fill="#0c0c0c" fill-opacity="0.3"/>
<ellipse cx="1323.16" cy="1062.83" rx="14.46" ry="8.2" fill="#0c0c0c" fill-opacity="0.3"/>
<ellipse cx="1361.9" cy="1063.14" rx="15.31" ry="7.52" fill="#0c0c0c" fill-opacity="0.3"/>
<ellipse cx="1401.39" cy="1062.83" rx="20.41" ry="8.2" fill="#0c0c0c" fill-opacity="0.3"/>
<ellipse cx="1442.4" cy="1062.23" rx="18.71" ry="10.25" fill="#0c0c0c" fill-opacity="0.3"/>
<ellipse cx="1477.79" cy="1062.53" rx="14.8" ry="9.57" fill="#0c0c0c" fill-opacity="0.3"/>
<ellipse cx="1515.31" cy="1061.92" rx="17.01" ry="11.62" fill="#0c0c0c" fill-opacity="0.3"/>
<ellipse cx="1553.29" cy="1062.53" rx="15.31" ry="8.89" fill="#0c0c0c" fill-opacity="0.3"/>
<ellipse cx="1592.02" cy="1062.23" rx="16.16" ry="10.94" fill="#0c0c0c" fill-opacity="0.3"/>
</g><g filter="url(#b4)">
<path d="M1233.18 1061.31 C1237.82 1055.02 1256.61 1055.02 1261.25 1061.31 C1256.61 1067.61 1237.82 1067.61 1233.18 1061.31Z" fill="#0c0c0c" fill-opacity="1"/>
<path d="M1272.68 1062.23 C1276.78 1056.62 1293.6 1056.62 1297.7 1062.23 C1293.6 1067.83 1276.78 1067.83 1272.68 1062.23Z" fill="#0c0c0c" fill-opacity="1"/>
<path d="M1310.65 1062.83 C1314.75 1057.58 1331.58 1057.58 1335.67 1062.83 C1331.58 1068.09 1314.75 1068.09 1310.65 1062.83Z" fill="#0c0c0c" fill-opacity="1"/>
<path d="M1348.63 1063.14 C1352.99 1058.4 1370.8 1058.4 1375.17 1063.14 C1370.8 1067.88 1352.99 1067.88 1348.63 1063.14Z" fill="#0c0c0c" fill-opacity="1"/>
<path d="M1383.56 1062.83 C1389.52 1057.58 1413.26 1057.58 1419.22 1062.83 C1413.26 1068.09 1389.52 1068.09 1383.56 1062.83Z" fill="#0c0c0c" fill-opacity="1"/>
<path d="M1426.09 1062.23 C1431.52 1055.42 1453.28 1055.42 1458.71 1062.23 C1453.28 1069.04 1431.52 1069.04 1426.09 1062.23Z" fill="#0c0c0c" fill-opacity="1"/>
<path d="M1464.98 1062.53 C1469.18 1056.24 1486.4 1056.24 1490.61 1062.53 C1486.4 1068.82 1469.18 1068.82 1464.98 1062.53Z" fill="#0c0c0c" fill-opacity="1"/>
<path d="M1500.52 1061.92 C1505.42 1054.08 1525.21 1054.08 1530.1 1061.92 C1525.21 1069.77 1505.42 1069.77 1500.52 1061.92Z" fill="#0c0c0c" fill-opacity="1"/>
<path d="M1540.02 1062.53 C1544.38 1056.76 1562.19 1056.76 1566.56 1062.53 C1562.19 1068.3 1544.38 1068.3 1540.02 1062.53Z" fill="#0c0c0c" fill-opacity="1"/>
<path d="M1577.99 1062.23 C1582.62 1054.9 1601.42 1054.9 1606.05 1062.23 C1601.42 1069.55 1582.62 1069.55 1577.99 1062.23Z" fill="#0c0c0c" fill-opacity="1"/>
</g></g>
<rect x="1227.5" y="1042.3" width="383" height="39" fill="none" stroke="#1c1c1c" stroke-width="2.1"/>
<line x1="1611" y1="927.6" x2="1621" y2="927.6" stroke="#222" stroke-width="1.8" stroke-linecap="butt"/>
<line x1="1611" y1="969.7" x2="1621" y2="969.7" stroke="#222" stroke-width="1.8" stroke-linecap="butt"/>
<line x1="1611" y1="1017.7" x2="1621" y2="1017.7" stroke="#222" stroke-width="1.8" stroke-linecap="butt"/>
<line x1="1611" y1="1061.4" x2="1621" y2="1061.4" stroke="#222" stroke-width="1.8" stroke-linecap="butt"/>
<text x="1623.5" y="938.5" font-size="32" text-anchor="start" fill="#000">62 kDa</text>
<text x="1625.5" y="978.7" font-size="32" text-anchor="start" fill="#000">62 kDa</text>
<text x="1624.5" y="1027" font-size="32" text-anchor="start" fill="#000">16 kDa</text>
<text x="1627.5" y="1070" font-size="32" text-anchor="start" fill="#000">37 kDa</text>
<text x="1087.3" y="1151" font-size="55" text-anchor="start" fill="#000">j</text>
<line x1="1226.5" y1="1145.77" x2="1226.5" y2="1483.7" stroke="#000" stroke-width="3.8" stroke-linecap="butt"/>
<line x1="1224.6" y1="1481.8" x2="1636" y2="1481.8" stroke="#000" stroke-width="3.8" stroke-linecap="butt"/>
<line x1="1213.3" y1="1481.8" x2="1226.5" y2="1481.8" stroke="#000" stroke-width="3.8" stroke-linecap="butt"/>
<text x="1209.9" y="1491.3" font-size="32.5" text-anchor="end" fill="#000">0.0</text>
<line x1="1213.3" y1="1414.97" x2="1226.5" y2="1414.97" stroke="#000" stroke-width="3.8" stroke-linecap="butt"/>
<text x="1209.9" y="1424.47" font-size="32.5" text-anchor="end" fill="#000">0.5</text>
<line x1="1213.3" y1="1348.15" x2="1226.5" y2="1348.15" stroke="#000" stroke-width="3.8" stroke-linecap="butt"/>
<text x="1209.9" y="1357.65" font-size="32.5" text-anchor="end" fill="#000">1.0</text>
<line x1="1213.3" y1="1281.32" x2="1226.5" y2="1281.32" stroke="#000" stroke-width="3.8" stroke-linecap="butt"/>
<text x="1209.9" y="1290.82" font-size="32.5" text-anchor="end" fill="#000">1.5</text>
<line x1="1213.3" y1="1214.5" x2="1226.5" y2="1214.5" stroke="#000" stroke-width="3.8" stroke-linecap="butt"/>
<text x="1209.9" y="1224" font-size="32.5" text-anchor="end" fill="#000">2.0</text>
<line x1="1213.3" y1="1147.67" x2="1226.5" y2="1147.67" stroke="#000" stroke-width="3.8" stroke-linecap="butt"/>
<text x="1209.9" y="1157.17" font-size="32.5" text-anchor="end" fill="#000">2.5</text>
<line x1="1288" y1="1481.8" x2="1288" y2="1494.8" stroke="#000" stroke-width="3.8" stroke-linecap="butt"/>
<line x1="1430" y1="1481.8" x2="1430" y2="1494.8" stroke="#000" stroke-width="3.8" stroke-linecap="butt"/>
<line x1="1571.8" y1="1481.8" x2="1571.8" y2="1494.8" stroke="#000" stroke-width="3.8" stroke-linecap="butt"/>
<text x="1139.2" y="1319.4" font-size="32.5" text-anchor="middle" fill="#000" transform="rotate(-90 1139.2 1319.4)">Relative intensity</text>
<rect x="1247.8" y="1164" width="32" height="13.5" fill="none" stroke="#000" stroke-width="3.2" stroke-linejoin="miter"/>
<text x="1302.3" y="1178.8" font-size="32.5" text-anchor="start" fill="#000">Non-T2D</text>
<rect x="1479.8" y="1164" width="32.5" height="13.5" fill="none" stroke="#EB1E63" stroke-width="3" stroke-linejoin="round"/>
<text x="1532.5" y="1178.8" font-size="32.5" text-anchor="start" fill="#000">T2D</text>
<line x1="1262.5" y1="1244.44" x2="1262.5" y2="1279.45" stroke="#000" stroke-width="3.5" stroke-linecap="butt"/>
<line x1="1262.5" y1="1383.17" x2="1262.5" y2="1391.85" stroke="#000" stroke-width="3.5" stroke-linecap="butt"/>
<line x1="1254" y1="1244.44" x2="1271" y2="1244.44" stroke="#000" stroke-width="3.5" stroke-linecap="butt"/>
<line x1="1254" y1="1391.85" x2="1271" y2="1391.85" stroke="#000" stroke-width="3.5" stroke-linecap="butt"/>
<rect x="1247" y="1279.45" width="31" height="103.71" fill="none" stroke="#000" stroke-width="3.5" stroke-linejoin="round"/>
<line x1="1247" y1="1321.95" x2="1278" y2="1321.95" stroke="#000" stroke-width="3.5" stroke-linecap="butt"/>
<circle cx="1262.5" cy="1244.44" r="5.6" fill="#000"/>
<circle cx="1262.5" cy="1310.73" r="5.6" fill="#000"/>
<circle cx="1262.5" cy="1322.76" r="5.6" fill="#000"/>
<circle cx="1262.5" cy="1377.55" r="5.6" fill="#000"/>
<circle cx="1262.5" cy="1391.85" r="5.6" fill="#000"/>
<line x1="1315.5" y1="1391.85" x2="1315.5" y2="1409.09" stroke="#EB1E63" stroke-width="3.5" stroke-linecap="butt"/>
<line x1="1315.5" y1="1449.06" x2="1315.5" y2="1465.76" stroke="#EB1E63" stroke-width="3.5" stroke-linecap="butt"/>
<line x1="1307" y1="1391.85" x2="1324" y2="1391.85" stroke="#EB1E63" stroke-width="3.5" stroke-linecap="butt"/>
<line x1="1307" y1="1465.76" x2="1324" y2="1465.76" stroke="#EB1E63" stroke-width="3.5" stroke-linecap="butt"/>
<rect x="1300" y="1409.09" width="31" height="39.96" fill="none" stroke="#EB1E63" stroke-width="3.5" stroke-linejoin="round"/>
<line x1="1300" y1="1424.33" x2="1331" y2="1424.33" stroke="#EB1E63" stroke-width="3.5" stroke-linecap="butt"/>
<rect x="1310.1" y="1386.45" width="10.8" height="10.8" fill="#EB1E63"/>
<rect x="1297.6" y="1419.6" width="10.8" height="10.8" fill="#EB1E63"/>
<rect x="1322.6" y="1416.26" width="10.8" height="10.8" fill="#EB1E63"/>
<rect x="1310.1" y="1430.96" width="10.8" height="10.8" fill="#EB1E63"/>
<rect x="1310.1" y="1460.36" width="10.8" height="10.8" fill="#EB1E63"/>
<line x1="1403.8" y1="1290.68" x2="1403.8" y2="1314.2" stroke="#000" stroke-width="3.5" stroke-linecap="butt"/>
<line x1="1403.8" y1="1392.39" x2="1403.8" y2="1399.07" stroke="#000" stroke-width="3.5" stroke-linecap="butt"/>
<line x1="1395.3" y1="1290.68" x2="1412.3" y2="1290.68" stroke="#000" stroke-width="3.5" stroke-linecap="butt"/>
<line x1="1395.3" y1="1399.07" x2="1412.3" y2="1399.07" stroke="#000" stroke-width="3.5" stroke-linecap="butt"/>
<rect x="1388.3" y="1314.2" width="31" height="78.19" fill="none" stroke="#000" stroke-width="3.5" stroke-linejoin="round"/>
<line x1="1388.3" y1="1341.2" x2="1419.3" y2="1341.2" stroke="#000" stroke-width="3.5" stroke-linecap="butt"/>
<circle cx="1403.8" cy="1290.68" r="5.6" fill="#000"/>
<circle cx="1416.3" cy="1335.45" r="5.6" fill="#000"/>
<circle cx="1391.3" cy="1341.2" r="5.6" fill="#000"/>
<circle cx="1416.3" cy="1390.92" r="5.6" fill="#000"/>
<circle cx="1391.3" cy="1399.07" r="5.6" fill="#000"/>
<line x1="1457" y1="1358.71" x2="1457" y2="1374.35" stroke="#EB1E63" stroke-width="3.5" stroke-linecap="butt"/>
<line x1="1457" y1="1463.62" x2="1457" y2="1476.85" stroke="#EB1E63" stroke-width="3.5" stroke-linecap="butt"/>
<line x1="1448.5" y1="1358.71" x2="1465.5" y2="1358.71" stroke="#EB1E63" stroke-width="3.5" stroke-linecap="butt"/>
<line x1="1448.5" y1="1476.85" x2="1465.5" y2="1476.85" stroke="#EB1E63" stroke-width="3.5" stroke-linecap="butt"/>
<rect x="1441.5" y="1374.35" width="31" height="89.28" fill="none" stroke="#EB1E63" stroke-width="3.5" stroke-linejoin="round"/>
<line x1="1441.5" y1="1411.9" x2="1472.5" y2="1411.9" stroke="#EB1E63" stroke-width="3.5" stroke-linecap="butt"/>
<rect x="1451.6" y="1353.31" width="10.8" height="10.8" fill="#EB1E63"/>
<rect x="1451.6" y="1380.84" width="10.8" height="10.8" fill="#EB1E63"/>
<rect x="1451.6" y="1406.5" width="10.8" height="10.8" fill="#EB1E63"/>
<rect x="1451.6" y="1447.67" width="10.8" height="10.8" fill="#EB1E63"/>
<rect x="1451.6" y="1471.45" width="10.8" height="10.8" fill="#EB1E63"/>
<line x1="1545.8" y1="1322.36" x2="1545.8" y2="1332.38" stroke="#000" stroke-width="3.5" stroke-linecap="butt"/>
<line x1="1545.8" y1="1356.17" x2="1545.8" y2="1367.4" stroke="#000" stroke-width="3.5" stroke-linecap="butt"/>
<line x1="1537.3" y1="1322.36" x2="1554.3" y2="1322.36" stroke="#000" stroke-width="3.5" stroke-linecap="butt"/>
<line x1="1537.3" y1="1367.4" x2="1554.3" y2="1367.4" stroke="#000" stroke-width="3.5" stroke-linecap="butt"/>
<rect x="1530.3" y="1332.38" width="31" height="23.79" fill="none" stroke="#000" stroke-width="3.5" stroke-linejoin="round"/>
<line x1="1530.3" y1="1343.61" x2="1561.3" y2="1343.61" stroke="#000" stroke-width="3.5" stroke-linecap="butt"/>
<circle cx="1545.8" cy="1322.36" r="5.6" fill="#000"/>
<circle cx="1558.8" cy="1338.79" r="5.6" fill="#000"/>
<circle cx="1532.8" cy="1344.41" r="5.6" fill="#000"/>
<circle cx="1558.8" cy="1348.82" r="5.6" fill="#000"/>
<circle cx="1545.8" cy="1367.4" r="5.6" fill="#000"/>
<line x1="1598.8" y1="1368.87" x2="1598.8" y2="1386.11" stroke="#EB1E63" stroke-width="3.5" stroke-linecap="butt"/>
<line x1="1598.8" y1="1431.81" x2="1598.8" y2="1448.52" stroke="#EB1E63" stroke-width="3.5" stroke-linecap="butt"/>
<line x1="1590.3" y1="1368.87" x2="1607.3" y2="1368.87" stroke="#EB1E63" stroke-width="3.5" stroke-linecap="butt"/>
<line x1="1590.3" y1="1448.52" x2="1607.3" y2="1448.52" stroke="#EB1E63" stroke-width="3.5" stroke-linecap="butt"/>
<rect x="1583.3" y="1386.11" width="31" height="45.71" fill="none" stroke="#EB1E63" stroke-width="3.5" stroke-linejoin="round"/>
<line x1="1583.3" y1="1411.1" x2="1614.3" y2="1411.1" stroke="#EB1E63" stroke-width="3.5" stroke-linecap="butt"/>
<rect x="1593.4" y="1363.47" width="10.8" height="10.8" fill="#EB1E63"/>
<rect x="1593.4" y="1395.14" width="10.8" height="10.8" fill="#EB1E63"/>
<rect x="1580.9" y="1405.7" width="10.8" height="10.8" fill="#EB1E63"/>
<rect x="1605.9" y="1413.58" width="10.8" height="10.8" fill="#EB1E63"/>
<rect x="1593.4" y="1443.12" width="10.8" height="10.8" fill="#EB1E63"/>
<text x="1316.3" y="1382.3" font-size="31" text-anchor="middle" fill="#000">**</text>
<text x="1599.3" y="1360" font-size="31" text-anchor="middle" fill="#000">**</text>
<text x="1300.5" y="1525" font-size="32.5" text-anchor="middle" fill="#000">p-AMPK</text>
<text x="1436.3" y="1525" font-size="32.5" text-anchor="middle" fill="#000">AMPK</text>
<text x="1582.5" y="1525" font-size="32.5" text-anchor="middle" fill="#000">Reg3a</text>
</svg></body></html>
